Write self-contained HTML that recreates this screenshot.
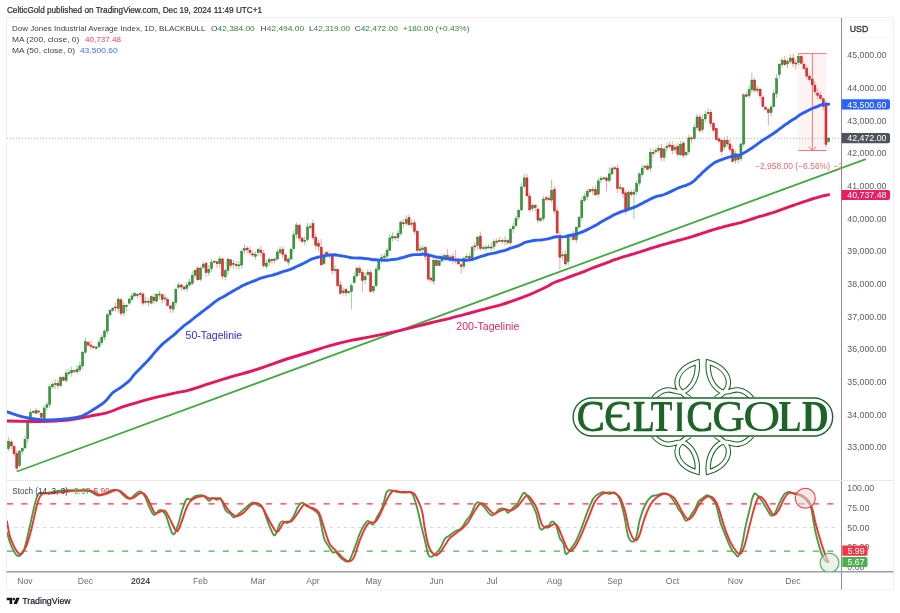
<!DOCTYPE html>
<html><head><meta charset="utf-8"><style>
html,body{margin:0;padding:0;background:#fff;width:900px;height:613px;overflow:hidden}
svg{display:block;will-change:transform}
</style></head><body>
<svg width="900" height="613" viewBox="0 0 900 613" style="font-family:'Liberation Sans',sans-serif">
<defs><clipPath id="cm"><rect x="7" y="18" width="834.5" height="462"/></clipPath><clipPath id="cmw"><rect x="7" y="18" width="886" height="462"/></clipPath><clipPath id="cs"><rect x="7" y="481" width="834.5" height="90.5"/></clipPath></defs>
<rect x="6.5" y="17.5" width="887" height="572.5" fill="none" stroke="#eef0f4" stroke-width="1"/>
<text x="6.9" y="13.0" font-size="8.2" fill="#2a2d36" stroke="#2a2d36" stroke-width="0.22" textLength="255.2" lengthAdjust="spacing">CelticGold published on TradingView.com, Dec 19, 2024 11:49 UTC+1</text>
<text x="12" y="30.8" font-size="8" fill="#3a3d47" textLength="193.5" lengthAdjust="spacingAndGlyphs">Dow Jones Industrial Average Index, 1D, BLACKBULL</text>
<text x="211.1" y="30.8" font-size="8" fill="#3a3d47" textLength="43.6" lengthAdjust="spacingAndGlyphs">O<tspan fill="#377f37">42,384.00</tspan></text>
<text x="260.6" y="30.8" font-size="8" fill="#3a3d47" textLength="43.6" lengthAdjust="spacingAndGlyphs">H<tspan fill="#377f37">42,494.00</tspan></text>
<text x="309.0" y="30.8" font-size="8" fill="#3a3d47" textLength="41.1" lengthAdjust="spacingAndGlyphs">L<tspan fill="#377f37">42,319.00</tspan></text>
<text x="354.7" y="30.8" font-size="8" fill="#3a3d47" textLength="43.1" lengthAdjust="spacingAndGlyphs">C<tspan fill="#377f37">42,472.00</tspan></text>
<text x="402.8" y="30.8" font-size="8" fill="#377f37" textLength="66.6" lengthAdjust="spacingAndGlyphs">+180.00 (+0.43%)</text>
<text x="12" y="41.7" font-size="8" fill="#3a3d47" textLength="67.2" lengthAdjust="spacingAndGlyphs">MA (200, close, 0)</text>
<text x="84.9" y="41.7" font-size="8" fill="#f23a6a" textLength="36.1" lengthAdjust="spacingAndGlyphs">40,737.48</text>
<text x="12" y="52.5" font-size="8" fill="#3a3d47" textLength="63.1" lengthAdjust="spacingAndGlyphs">MA (50, close, 0)</text>
<text x="79.9" y="52.5" font-size="8" fill="#3f6ef5" textLength="37.8" lengthAdjust="spacingAndGlyphs">43,500.60</text>
<line x1="841.5" y1="18" x2="841.5" y2="589.5" stroke="#8a8d97" stroke-width="1"/>
<rect x="843.8" y="20.4" width="47" height="17.2" rx="3" fill="#fff" stroke="#f0f2f6" stroke-width="0.8"/>
<text x="849.8" y="31.7" font-size="8.7" fill="#2a2e39" stroke="#2a2e39" stroke-width="0.3" textLength="18.4" lengthAdjust="spacingAndGlyphs">USD</text>
<text x="847.3" y="450.4" font-size="8.8" fill="#5d606b">33,000.00</text>
<text x="847.3" y="417.8" font-size="8.8" fill="#5d606b">34,000.00</text>
<text x="847.3" y="385.1" font-size="8.8" fill="#5d606b">35,000.00</text>
<text x="847.3" y="352.4" font-size="8.8" fill="#5d606b">36,000.00</text>
<text x="847.3" y="319.8" font-size="8.8" fill="#5d606b">37,000.00</text>
<text x="847.3" y="287.1" font-size="8.8" fill="#5d606b">38,000.00</text>
<text x="847.3" y="254.4" font-size="8.8" fill="#5d606b">39,000.00</text>
<text x="847.3" y="221.8" font-size="8.8" fill="#5d606b">40,000.00</text>
<text x="847.3" y="189.1" font-size="8.8" fill="#5d606b">41,000.00</text>
<text x="847.3" y="156.4" font-size="8.8" fill="#5d606b">42,000.00</text>
<text x="847.3" y="123.7" font-size="8.8" fill="#5d606b">43,000.00</text>
<text x="847.3" y="91.1" font-size="8.8" fill="#5d606b">44,000.00</text>
<text x="847.3" y="58.4" font-size="8.8" fill="#5d606b">45,000.00</text>
<text x="847.3" y="491.1" font-size="8.8" fill="#5d606b">100.00</text>
<text x="847.3" y="510.8" font-size="8.8" fill="#5d606b">75.00</text>
<text x="847.3" y="530.5" font-size="8.8" fill="#5d606b">50.00</text>
<text x="847.3" y="550.2" font-size="8.8" fill="#5d606b">25.00</text>
<text x="847.3" y="569.9" font-size="8.8" fill="#5d606b">0.00</text>
<line x1="6.5" y1="480.5" x2="893" y2="480.5" stroke="#e6e8ee" stroke-width="1"/>
<line x1="6.5" y1="571.8" x2="893.5" y2="571.8" stroke="#9a9da6" stroke-width="1.4"/>
<text x="25" y="583.7" font-size="8.6" fill="#6a6d78" text-anchor="middle">Nov</text>
<text x="85.5" y="583.7" font-size="8.6" fill="#6a6d78" text-anchor="middle">Dec</text>
<text x="140.5" y="583.7" font-size="8.6" font-weight="bold" fill="#4a4d57" text-anchor="middle">2024</text>
<text x="200.5" y="583.7" font-size="8.6" fill="#6a6d78" text-anchor="middle">Feb</text>
<text x="258" y="583.7" font-size="8.6" fill="#6a6d78" text-anchor="middle">Mar</text>
<text x="313" y="583.7" font-size="8.6" fill="#6a6d78" text-anchor="middle">Apr</text>
<text x="373.5" y="583.7" font-size="8.6" fill="#6a6d78" text-anchor="middle">May</text>
<text x="436.5" y="583.7" font-size="8.6" fill="#6a6d78" text-anchor="middle">Jun</text>
<text x="492" y="583.7" font-size="8.6" fill="#6a6d78" text-anchor="middle">Jul</text>
<text x="554.5" y="583.7" font-size="8.6" fill="#6a6d78" text-anchor="middle">Aug</text>
<text x="615" y="583.7" font-size="8.6" fill="#6a6d78" text-anchor="middle">Sep</text>
<text x="672.5" y="583.7" font-size="8.6" fill="#6a6d78" text-anchor="middle">Oct</text>
<text x="735.5" y="583.7" font-size="8.6" fill="#6a6d78" text-anchor="middle">Nov</text>
<text x="793" y="583.7" font-size="8.6" fill="#6a6d78" text-anchor="middle">Dec</text>
<rect x="798.3" y="53.6" width="28.2" height="96.9" fill="#fef3f3"/>
<line x1="7" y1="138.3" x2="841" y2="138.3" stroke="#a3a6ae" stroke-width="0.8" stroke-dasharray="1.2 1.8"/>
<g stroke="#f36b6e" stroke-width="0.9" fill="none"><line x1="798.3" y1="53.6" x2="826.5" y2="53.6"/><line x1="798.3" y1="150.5" x2="826.5" y2="150.5"/><line x1="812.4" y1="53.6" x2="812.4" y2="150.3"/><polyline points="808.7,146.8 812.4,150.4 816.1,146.8"/></g>
<g clip-path="url(#cm)">
<line x1="5.80" y1="440.4" x2="5.80" y2="452.4" stroke="#7cc47f" stroke-width="0.8"/>
<rect x="4.80" y="442.8" width="2.0" height="6.7" fill="#3a9a3e" stroke="#26752a" stroke-width="0.5"/>
<line x1="8.54" y1="437.1" x2="8.54" y2="451.0" stroke="#7cc47f" stroke-width="0.8"/>
<rect x="7.54" y="441.3" width="2.0" height="7.2" fill="#3a9a3e" stroke="#26752a" stroke-width="0.5"/>
<line x1="11.29" y1="439.3" x2="11.29" y2="448.9" stroke="#f28b8b" stroke-width="0.8"/>
<rect x="10.29" y="442.0" width="2.0" height="3.9" fill="#e3312f" stroke="#c0201f" stroke-width="0.5"/>
<line x1="14.03" y1="445.1" x2="14.03" y2="456.4" stroke="#f28b8b" stroke-width="0.8"/>
<rect x="13.03" y="446.6" width="2.0" height="7.1" fill="#e3312f" stroke="#c0201f" stroke-width="0.5"/>
<line x1="16.77" y1="450.6" x2="16.77" y2="471.8" stroke="#f28b8b" stroke-width="0.8"/>
<rect x="15.77" y="453.7" width="2.0" height="14.4" fill="#e3312f" stroke="#c0201f" stroke-width="0.5"/>
<line x1="19.51" y1="450.0" x2="19.51" y2="467.4" stroke="#7cc47f" stroke-width="0.8"/>
<rect x="18.51" y="451.1" width="2.0" height="14.4" fill="#3a9a3e" stroke="#26752a" stroke-width="0.5"/>
<line x1="22.26" y1="447.4" x2="22.26" y2="454.9" stroke="#7cc47f" stroke-width="0.8"/>
<rect x="21.26" y="448.5" width="2.0" height="2.6" fill="#3a9a3e" stroke="#26752a" stroke-width="0.5"/>
<line x1="25.00" y1="436.0" x2="25.00" y2="448.9" stroke="#7cc47f" stroke-width="0.8"/>
<rect x="24.00" y="439.4" width="2.0" height="8.5" fill="#3a9a3e" stroke="#26752a" stroke-width="0.5"/>
<line x1="27.74" y1="416.7" x2="27.74" y2="443.1" stroke="#7cc47f" stroke-width="0.8"/>
<rect x="26.74" y="421.1" width="2.0" height="17.6" fill="#3a9a3e" stroke="#26752a" stroke-width="0.5"/>
<line x1="30.49" y1="409.4" x2="30.49" y2="424.2" stroke="#7cc47f" stroke-width="0.8"/>
<rect x="29.49" y="412.6" width="2.0" height="8.5" fill="#3a9a3e" stroke="#26752a" stroke-width="0.5"/>
<line x1="33.23" y1="410.1" x2="33.23" y2="413.4" stroke="#f28b8b" stroke-width="0.8"/>
<rect x="32.23" y="411.5" width="2.0" height="1.0" fill="#e3312f" stroke="#c0201f" stroke-width="0.5"/>
<line x1="35.97" y1="407.9" x2="35.97" y2="414.3" stroke="#7cc47f" stroke-width="0.8"/>
<rect x="34.97" y="410.7" width="2.0" height="2.6" fill="#3a9a3e" stroke="#26752a" stroke-width="0.5"/>
<line x1="38.72" y1="409.5" x2="38.72" y2="413.7" stroke="#f28b8b" stroke-width="0.8"/>
<rect x="37.72" y="411.0" width="2.0" height="1.0" fill="#e3312f" stroke="#c0201f" stroke-width="0.5"/>
<line x1="41.46" y1="412.4" x2="41.46" y2="419.7" stroke="#f28b8b" stroke-width="0.8"/>
<rect x="40.46" y="413.3" width="2.0" height="3.9" fill="#e3312f" stroke="#c0201f" stroke-width="0.5"/>
<line x1="44.20" y1="405.6" x2="44.20" y2="422.4" stroke="#7cc47f" stroke-width="0.8"/>
<rect x="43.20" y="408.0" width="2.0" height="10.5" fill="#3a9a3e" stroke="#26752a" stroke-width="0.5"/>
<line x1="46.94" y1="402.1" x2="46.94" y2="410.6" stroke="#7cc47f" stroke-width="0.8"/>
<rect x="45.94" y="404.8" width="2.0" height="2.6" fill="#3a9a3e" stroke="#26752a" stroke-width="0.5"/>
<line x1="49.69" y1="384.2" x2="49.69" y2="407.7" stroke="#7cc47f" stroke-width="0.8"/>
<rect x="48.69" y="386.8" width="2.0" height="17.6" fill="#3a9a3e" stroke="#26752a" stroke-width="0.5"/>
<line x1="52.43" y1="381.7" x2="52.43" y2="388.6" stroke="#7cc47f" stroke-width="0.8"/>
<rect x="51.43" y="384.2" width="2.0" height="2.6" fill="#3a9a3e" stroke="#26752a" stroke-width="0.5"/>
<line x1="55.17" y1="379.0" x2="55.17" y2="389.1" stroke="#7cc47f" stroke-width="0.8"/>
<rect x="54.17" y="383.5" width="2.0" height="1.1" fill="#3a9a3e" stroke="#26752a" stroke-width="0.5"/>
<line x1="57.92" y1="379.6" x2="57.92" y2="388.9" stroke="#f28b8b" stroke-width="0.8"/>
<rect x="56.92" y="383.5" width="2.0" height="2.0" fill="#e3312f" stroke="#c0201f" stroke-width="0.5"/>
<line x1="60.66" y1="375.6" x2="60.66" y2="387.1" stroke="#7cc47f" stroke-width="0.8"/>
<rect x="59.66" y="377.6" width="2.0" height="7.9" fill="#3a9a3e" stroke="#26752a" stroke-width="0.5"/>
<line x1="63.40" y1="375.7" x2="63.40" y2="381.4" stroke="#f28b8b" stroke-width="0.8"/>
<rect x="62.40" y="377.6" width="2.0" height="2.7" fill="#e3312f" stroke="#c0201f" stroke-width="0.5"/>
<line x1="66.14" y1="369.5" x2="66.14" y2="382.6" stroke="#7cc47f" stroke-width="0.8"/>
<rect x="65.14" y="373.1" width="2.0" height="7.2" fill="#3a9a3e" stroke="#26752a" stroke-width="0.5"/>
<line x1="68.89" y1="368.6" x2="68.89" y2="375.8" stroke="#7cc47f" stroke-width="0.8"/>
<rect x="67.89" y="372.6" width="2.0" height="1.0" fill="#3a9a3e" stroke="#26752a" stroke-width="0.5"/>
<line x1="71.63" y1="366.4" x2="71.63" y2="376.7" stroke="#7cc47f" stroke-width="0.8"/>
<rect x="70.63" y="370.7" width="2.0" height="2.1" fill="#3a9a3e" stroke="#26752a" stroke-width="0.5"/>
<line x1="74.37" y1="369.7" x2="74.37" y2="373.1" stroke="#f28b8b" stroke-width="0.8"/>
<rect x="73.37" y="370.5" width="2.0" height="1.0" fill="#e3312f" stroke="#c0201f" stroke-width="0.5"/>
<line x1="77.12" y1="365.0" x2="77.12" y2="374.3" stroke="#7cc47f" stroke-width="0.8"/>
<rect x="76.12" y="369.2" width="2.0" height="2.6" fill="#3a9a3e" stroke="#26752a" stroke-width="0.5"/>
<line x1="79.86" y1="361.5" x2="79.86" y2="372.1" stroke="#7cc47f" stroke-width="0.8"/>
<rect x="78.86" y="365.9" width="2.0" height="3.9" fill="#3a9a3e" stroke="#26752a" stroke-width="0.5"/>
<line x1="82.60" y1="351.1" x2="82.60" y2="369.0" stroke="#7cc47f" stroke-width="0.8"/>
<rect x="81.60" y="352.2" width="2.0" height="13.7" fill="#3a9a3e" stroke="#26752a" stroke-width="0.5"/>
<line x1="85.35" y1="338.0" x2="85.35" y2="354.0" stroke="#7cc47f" stroke-width="0.8"/>
<rect x="84.35" y="341.7" width="2.0" height="10.5" fill="#3a9a3e" stroke="#26752a" stroke-width="0.5"/>
<line x1="88.09" y1="341.3" x2="88.09" y2="347.0" stroke="#f28b8b" stroke-width="0.8"/>
<rect x="87.09" y="342.4" width="2.0" height="2.6" fill="#e3312f" stroke="#c0201f" stroke-width="0.5"/>
<line x1="90.83" y1="340.6" x2="90.83" y2="349.9" stroke="#f28b8b" stroke-width="0.8"/>
<rect x="89.83" y="345.0" width="2.0" height="1.3" fill="#e3312f" stroke="#c0201f" stroke-width="0.5"/>
<line x1="93.58" y1="345.4" x2="93.58" y2="349.4" stroke="#f28b8b" stroke-width="0.8"/>
<rect x="92.58" y="346.6" width="2.0" height="1.0" fill="#e3312f" stroke="#c0201f" stroke-width="0.5"/>
<line x1="96.32" y1="345.8" x2="96.32" y2="349.3" stroke="#7cc47f" stroke-width="0.8"/>
<rect x="95.32" y="347.0" width="2.0" height="1.3" fill="#3a9a3e" stroke="#26752a" stroke-width="0.5"/>
<line x1="99.06" y1="338.7" x2="99.06" y2="348.2" stroke="#7cc47f" stroke-width="0.8"/>
<rect x="98.06" y="342.4" width="2.0" height="4.3" fill="#3a9a3e" stroke="#26752a" stroke-width="0.5"/>
<line x1="101.80" y1="334.3" x2="101.80" y2="344.9" stroke="#7cc47f" stroke-width="0.8"/>
<rect x="100.80" y="337.2" width="2.0" height="5.2" fill="#3a9a3e" stroke="#26752a" stroke-width="0.5"/>
<line x1="104.55" y1="329.6" x2="104.55" y2="340.5" stroke="#7cc47f" stroke-width="0.8"/>
<rect x="103.55" y="331.1" width="2.0" height="5.9" fill="#3a9a3e" stroke="#26752a" stroke-width="0.5"/>
<line x1="107.29" y1="313.5" x2="107.29" y2="334.3" stroke="#7cc47f" stroke-width="0.8"/>
<rect x="106.29" y="314.8" width="2.0" height="16.3" fill="#3a9a3e" stroke="#26752a" stroke-width="0.5"/>
<line x1="110.03" y1="309.1" x2="110.03" y2="317.2" stroke="#7cc47f" stroke-width="0.8"/>
<rect x="109.03" y="310.3" width="2.0" height="4.5" fill="#3a9a3e" stroke="#26752a" stroke-width="0.5"/>
<line x1="112.78" y1="306.7" x2="112.78" y2="312.1" stroke="#7cc47f" stroke-width="0.8"/>
<rect x="111.78" y="308.3" width="2.0" height="2.0" fill="#3a9a3e" stroke="#26752a" stroke-width="0.5"/>
<line x1="115.52" y1="302.6" x2="115.52" y2="311.8" stroke="#f28b8b" stroke-width="0.8"/>
<rect x="114.52" y="307.0" width="2.0" height="1.0" fill="#e3312f" stroke="#c0201f" stroke-width="0.5"/>
<line x1="118.26" y1="297.3" x2="118.26" y2="312.4" stroke="#7cc47f" stroke-width="0.8"/>
<rect x="117.26" y="299.2" width="2.0" height="9.1" fill="#3a9a3e" stroke="#26752a" stroke-width="0.5"/>
<line x1="121.00" y1="298.2" x2="121.00" y2="315.8" stroke="#f28b8b" stroke-width="0.8"/>
<rect x="120.00" y="299.8" width="2.0" height="13.7" fill="#e3312f" stroke="#c0201f" stroke-width="0.5"/>
<line x1="123.75" y1="301.7" x2="123.75" y2="316.1" stroke="#7cc47f" stroke-width="0.8"/>
<rect x="122.75" y="305.7" width="2.0" height="7.2" fill="#3a9a3e" stroke="#26752a" stroke-width="0.5"/>
<line x1="126.49" y1="304.2" x2="126.49" y2="311.2" stroke="#7cc47f" stroke-width="0.8"/>
<rect x="125.49" y="305.4" width="2.0" height="1.3" fill="#3a9a3e" stroke="#26752a" stroke-width="0.5"/>
<line x1="129.23" y1="297.6" x2="129.23" y2="304.9" stroke="#7cc47f" stroke-width="0.8"/>
<rect x="128.23" y="299.2" width="2.0" height="3.9" fill="#3a9a3e" stroke="#26752a" stroke-width="0.5"/>
<line x1="131.98" y1="292.2" x2="131.98" y2="301.2" stroke="#7cc47f" stroke-width="0.8"/>
<rect x="130.98" y="295.9" width="2.0" height="3.3" fill="#3a9a3e" stroke="#26752a" stroke-width="0.5"/>
<line x1="134.72" y1="291.8" x2="134.72" y2="297.0" stroke="#7cc47f" stroke-width="0.8"/>
<rect x="133.72" y="293.7" width="2.0" height="2.2" fill="#3a9a3e" stroke="#26752a" stroke-width="0.5"/>
<line x1="137.46" y1="293.1" x2="137.46" y2="298.5" stroke="#f28b8b" stroke-width="0.8"/>
<rect x="136.46" y="294.2" width="2.0" height="1.3" fill="#e3312f" stroke="#c0201f" stroke-width="0.5"/>
<line x1="140.21" y1="292.0" x2="140.21" y2="297.7" stroke="#7cc47f" stroke-width="0.8"/>
<rect x="139.21" y="293.6" width="2.0" height="1.0" fill="#3a9a3e" stroke="#26752a" stroke-width="0.5"/>
<line x1="142.95" y1="291.8" x2="142.95" y2="305.6" stroke="#f28b8b" stroke-width="0.8"/>
<rect x="141.95" y="294.0" width="2.0" height="9.1" fill="#e3312f" stroke="#c0201f" stroke-width="0.5"/>
<line x1="145.69" y1="296.9" x2="145.69" y2="304.8" stroke="#7cc47f" stroke-width="0.8"/>
<rect x="144.69" y="301.2" width="2.0" height="1.0" fill="#3a9a3e" stroke="#26752a" stroke-width="0.5"/>
<line x1="148.44" y1="298.5" x2="148.44" y2="306.5" stroke="#f28b8b" stroke-width="0.8"/>
<rect x="147.44" y="301.4" width="2.0" height="1.0" fill="#e3312f" stroke="#c0201f" stroke-width="0.5"/>
<line x1="151.18" y1="295.1" x2="151.18" y2="304.5" stroke="#7cc47f" stroke-width="0.8"/>
<rect x="150.18" y="296.6" width="2.0" height="6.5" fill="#3a9a3e" stroke="#26752a" stroke-width="0.5"/>
<line x1="153.92" y1="293.0" x2="153.92" y2="304.3" stroke="#f28b8b" stroke-width="0.8"/>
<rect x="152.92" y="297.2" width="2.0" height="3.3" fill="#e3312f" stroke="#c0201f" stroke-width="0.5"/>
<line x1="156.66" y1="292.9" x2="156.66" y2="302.6" stroke="#7cc47f" stroke-width="0.8"/>
<rect x="155.66" y="294.6" width="2.0" height="6.5" fill="#3a9a3e" stroke="#26752a" stroke-width="0.5"/>
<line x1="159.41" y1="290.5" x2="159.41" y2="299.3" stroke="#7cc47f" stroke-width="0.8"/>
<rect x="158.41" y="294.0" width="2.0" height="1.0" fill="#3a9a3e" stroke="#26752a" stroke-width="0.5"/>
<line x1="162.15" y1="293.3" x2="162.15" y2="303.7" stroke="#f28b8b" stroke-width="0.8"/>
<rect x="161.15" y="294.8" width="2.0" height="4.6" fill="#e3312f" stroke="#c0201f" stroke-width="0.5"/>
<line x1="164.89" y1="293.8" x2="164.89" y2="301.9" stroke="#7cc47f" stroke-width="0.8"/>
<rect x="163.89" y="297.9" width="2.0" height="1.0" fill="#3a9a3e" stroke="#26752a" stroke-width="0.5"/>
<line x1="167.64" y1="297.0" x2="167.64" y2="306.5" stroke="#f28b8b" stroke-width="0.8"/>
<rect x="166.64" y="299.4" width="2.0" height="5.9" fill="#e3312f" stroke="#c0201f" stroke-width="0.5"/>
<line x1="170.38" y1="305.0" x2="170.38" y2="312.9" stroke="#f28b8b" stroke-width="0.8"/>
<rect x="169.38" y="305.9" width="2.0" height="2.6" fill="#e3312f" stroke="#c0201f" stroke-width="0.5"/>
<line x1="173.12" y1="300.7" x2="173.12" y2="312.6" stroke="#7cc47f" stroke-width="0.8"/>
<rect x="172.12" y="302.4" width="2.0" height="6.8" fill="#3a9a3e" stroke="#26752a" stroke-width="0.5"/>
<line x1="175.86" y1="287.5" x2="175.86" y2="306.2" stroke="#7cc47f" stroke-width="0.8"/>
<rect x="174.86" y="289.3" width="2.0" height="13.1" fill="#3a9a3e" stroke="#26752a" stroke-width="0.5"/>
<line x1="178.61" y1="282.0" x2="178.61" y2="289.2" stroke="#7cc47f" stroke-width="0.8"/>
<rect x="177.61" y="285.0" width="2.0" height="2.3" fill="#3a9a3e" stroke="#26752a" stroke-width="0.5"/>
<line x1="181.35" y1="283.6" x2="181.35" y2="290.5" stroke="#f28b8b" stroke-width="0.8"/>
<rect x="180.35" y="285.0" width="2.0" height="2.0" fill="#e3312f" stroke="#c0201f" stroke-width="0.5"/>
<line x1="184.09" y1="285.9" x2="184.09" y2="290.6" stroke="#f28b8b" stroke-width="0.8"/>
<rect x="183.09" y="287.0" width="2.0" height="2.0" fill="#e3312f" stroke="#c0201f" stroke-width="0.5"/>
<line x1="186.84" y1="282.1" x2="186.84" y2="292.3" stroke="#7cc47f" stroke-width="0.8"/>
<rect x="185.84" y="285.0" width="2.0" height="3.3" fill="#3a9a3e" stroke="#26752a" stroke-width="0.5"/>
<line x1="189.58" y1="278.9" x2="189.58" y2="286.8" stroke="#7cc47f" stroke-width="0.8"/>
<rect x="188.58" y="282.0" width="2.0" height="3.0" fill="#3a9a3e" stroke="#26752a" stroke-width="0.5"/>
<line x1="192.32" y1="271.3" x2="192.32" y2="284.9" stroke="#7cc47f" stroke-width="0.8"/>
<rect x="191.32" y="275.5" width="2.0" height="7.8" fill="#3a9a3e" stroke="#26752a" stroke-width="0.5"/>
<line x1="195.07" y1="269.4" x2="195.07" y2="277.0" stroke="#7cc47f" stroke-width="0.8"/>
<rect x="194.07" y="270.3" width="2.0" height="4.9" fill="#3a9a3e" stroke="#26752a" stroke-width="0.5"/>
<line x1="197.81" y1="265.7" x2="197.81" y2="280.8" stroke="#f28b8b" stroke-width="0.8"/>
<rect x="196.81" y="268.1" width="2.0" height="11.7" fill="#e3312f" stroke="#c0201f" stroke-width="0.5"/>
<line x1="200.55" y1="266.6" x2="200.55" y2="281.4" stroke="#7cc47f" stroke-width="0.8"/>
<rect x="199.55" y="268.1" width="2.0" height="11.1" fill="#3a9a3e" stroke="#26752a" stroke-width="0.5"/>
<line x1="203.29" y1="261.3" x2="203.29" y2="268.7" stroke="#7cc47f" stroke-width="0.8"/>
<rect x="202.29" y="264.2" width="2.0" height="3.2" fill="#3a9a3e" stroke="#26752a" stroke-width="0.5"/>
<line x1="206.04" y1="261.1" x2="206.04" y2="276.7" stroke="#f28b8b" stroke-width="0.8"/>
<rect x="205.04" y="263.2" width="2.0" height="9.4" fill="#e3312f" stroke="#c0201f" stroke-width="0.5"/>
<line x1="208.78" y1="265.0" x2="208.78" y2="275.8" stroke="#7cc47f" stroke-width="0.8"/>
<rect x="207.78" y="269.4" width="2.0" height="3.2" fill="#3a9a3e" stroke="#26752a" stroke-width="0.5"/>
<line x1="211.52" y1="259.1" x2="211.52" y2="271.7" stroke="#7cc47f" stroke-width="0.8"/>
<rect x="210.52" y="262.5" width="2.0" height="6.2" fill="#3a9a3e" stroke="#26752a" stroke-width="0.5"/>
<line x1="214.27" y1="259.9" x2="214.27" y2="263.2" stroke="#7cc47f" stroke-width="0.8"/>
<rect x="213.27" y="261.2" width="2.0" height="1.0" fill="#3a9a3e" stroke="#26752a" stroke-width="0.5"/>
<line x1="217.01" y1="260.9" x2="217.01" y2="267.9" stroke="#f28b8b" stroke-width="0.8"/>
<rect x="216.01" y="261.8" width="2.0" height="1.9" fill="#e3312f" stroke="#c0201f" stroke-width="0.5"/>
<line x1="219.75" y1="255.5" x2="219.75" y2="268.1" stroke="#7cc47f" stroke-width="0.8"/>
<rect x="218.75" y="258.9" width="2.0" height="4.8" fill="#3a9a3e" stroke="#26752a" stroke-width="0.5"/>
<line x1="222.50" y1="258.0" x2="222.50" y2="279.3" stroke="#f28b8b" stroke-width="0.8"/>
<rect x="221.50" y="258.9" width="2.0" height="17.2" fill="#e3312f" stroke="#c0201f" stroke-width="0.5"/>
<line x1="225.24" y1="268.1" x2="225.24" y2="280.3" stroke="#7cc47f" stroke-width="0.8"/>
<rect x="224.24" y="270.7" width="2.0" height="6.1" fill="#3a9a3e" stroke="#26752a" stroke-width="0.5"/>
<line x1="227.98" y1="257.2" x2="227.98" y2="274.8" stroke="#7cc47f" stroke-width="0.8"/>
<rect x="226.98" y="259.2" width="2.0" height="11.1" fill="#3a9a3e" stroke="#26752a" stroke-width="0.5"/>
<line x1="230.72" y1="258.7" x2="230.72" y2="268.2" stroke="#f28b8b" stroke-width="0.8"/>
<rect x="229.72" y="259.8" width="2.0" height="5.6" fill="#e3312f" stroke="#c0201f" stroke-width="0.5"/>
<line x1="233.47" y1="260.0" x2="233.47" y2="268.7" stroke="#7cc47f" stroke-width="0.8"/>
<rect x="232.47" y="263.5" width="2.0" height="1.0" fill="#3a9a3e" stroke="#26752a" stroke-width="0.5"/>
<line x1="236.21" y1="260.9" x2="236.21" y2="269.1" stroke="#f28b8b" stroke-width="0.8"/>
<rect x="235.21" y="264.4" width="2.0" height="1.3" fill="#e3312f" stroke="#c0201f" stroke-width="0.5"/>
<line x1="238.95" y1="261.1" x2="238.95" y2="270.0" stroke="#7cc47f" stroke-width="0.8"/>
<rect x="237.95" y="264.9" width="2.0" height="1.0" fill="#3a9a3e" stroke="#26752a" stroke-width="0.5"/>
<line x1="241.70" y1="249.2" x2="241.70" y2="268.3" stroke="#7cc47f" stroke-width="0.8"/>
<rect x="240.70" y="251.3" width="2.0" height="13.7" fill="#3a9a3e" stroke="#26752a" stroke-width="0.5"/>
<line x1="244.44" y1="244.6" x2="244.44" y2="254.3" stroke="#7cc47f" stroke-width="0.8"/>
<rect x="243.44" y="248.7" width="2.0" height="1.6" fill="#3a9a3e" stroke="#26752a" stroke-width="0.5"/>
<line x1="247.18" y1="245.8" x2="247.18" y2="253.5" stroke="#f28b8b" stroke-width="0.8"/>
<rect x="246.18" y="248.1" width="2.0" height="1.7" fill="#e3312f" stroke="#c0201f" stroke-width="0.5"/>
<line x1="249.93" y1="246.3" x2="249.93" y2="255.5" stroke="#f28b8b" stroke-width="0.8"/>
<rect x="248.93" y="250.3" width="2.0" height="2.3" fill="#e3312f" stroke="#c0201f" stroke-width="0.5"/>
<line x1="252.67" y1="250.8" x2="252.67" y2="257.2" stroke="#f28b8b" stroke-width="0.8"/>
<rect x="251.67" y="253.9" width="2.0" height="1.1" fill="#e3312f" stroke="#c0201f" stroke-width="0.5"/>
<line x1="255.41" y1="251.2" x2="255.41" y2="259.4" stroke="#7cc47f" stroke-width="0.8"/>
<rect x="254.41" y="254.2" width="2.0" height="2.1" fill="#3a9a3e" stroke="#26752a" stroke-width="0.5"/>
<line x1="258.15" y1="248.3" x2="258.15" y2="255.8" stroke="#7cc47f" stroke-width="0.8"/>
<rect x="257.15" y="249.4" width="2.0" height="3.2" fill="#3a9a3e" stroke="#26752a" stroke-width="0.5"/>
<line x1="260.90" y1="245.8" x2="260.90" y2="256.7" stroke="#f28b8b" stroke-width="0.8"/>
<rect x="259.90" y="250.3" width="2.0" height="2.3" fill="#e3312f" stroke="#c0201f" stroke-width="0.5"/>
<line x1="263.64" y1="250.2" x2="263.64" y2="267.9" stroke="#f28b8b" stroke-width="0.8"/>
<rect x="262.64" y="253.7" width="2.0" height="12.0" fill="#e3312f" stroke="#c0201f" stroke-width="0.5"/>
<line x1="266.38" y1="259.6" x2="266.38" y2="269.2" stroke="#7cc47f" stroke-width="0.8"/>
<rect x="265.38" y="263.1" width="2.0" height="3.2" fill="#3a9a3e" stroke="#26752a" stroke-width="0.5"/>
<line x1="269.13" y1="256.9" x2="269.13" y2="266.1" stroke="#7cc47f" stroke-width="0.8"/>
<rect x="268.13" y="259.3" width="2.0" height="2.9" fill="#3a9a3e" stroke="#26752a" stroke-width="0.5"/>
<line x1="271.87" y1="258.5" x2="271.87" y2="264.3" stroke="#f28b8b" stroke-width="0.8"/>
<rect x="270.87" y="259.6" width="2.0" height="1.1" fill="#e3312f" stroke="#c0201f" stroke-width="0.5"/>
<line x1="274.61" y1="258.1" x2="274.61" y2="263.3" stroke="#7cc47f" stroke-width="0.8"/>
<rect x="273.61" y="259.0" width="2.0" height="1.3" fill="#3a9a3e" stroke="#26752a" stroke-width="0.5"/>
<line x1="277.36" y1="249.4" x2="277.36" y2="260.7" stroke="#7cc47f" stroke-width="0.8"/>
<rect x="276.36" y="252.0" width="2.0" height="7.0" fill="#3a9a3e" stroke="#26752a" stroke-width="0.5"/>
<line x1="280.10" y1="246.4" x2="280.10" y2="255.0" stroke="#7cc47f" stroke-width="0.8"/>
<rect x="279.10" y="249.8" width="2.0" height="2.6" fill="#3a9a3e" stroke="#26752a" stroke-width="0.5"/>
<line x1="282.84" y1="246.1" x2="282.84" y2="258.6" stroke="#f28b8b" stroke-width="0.8"/>
<rect x="281.84" y="249.2" width="2.0" height="5.2" fill="#e3312f" stroke="#c0201f" stroke-width="0.5"/>
<line x1="285.58" y1="253.3" x2="285.58" y2="261.7" stroke="#f28b8b" stroke-width="0.8"/>
<rect x="284.58" y="255.0" width="2.0" height="5.9" fill="#e3312f" stroke="#c0201f" stroke-width="0.5"/>
<line x1="288.33" y1="257.1" x2="288.33" y2="265.5" stroke="#7cc47f" stroke-width="0.8"/>
<rect x="287.33" y="259.0" width="2.0" height="3.2" fill="#3a9a3e" stroke="#26752a" stroke-width="0.5"/>
<line x1="291.07" y1="247.7" x2="291.07" y2="260.4" stroke="#7cc47f" stroke-width="0.8"/>
<rect x="290.07" y="249.2" width="2.0" height="9.8" fill="#3a9a3e" stroke="#26752a" stroke-width="0.5"/>
<line x1="293.81" y1="230.6" x2="293.81" y2="251.7" stroke="#7cc47f" stroke-width="0.8"/>
<rect x="292.81" y="234.8" width="2.0" height="13.7" fill="#3a9a3e" stroke="#26752a" stroke-width="0.5"/>
<line x1="296.56" y1="222.6" x2="296.56" y2="238.3" stroke="#7cc47f" stroke-width="0.8"/>
<rect x="295.56" y="225.0" width="2.0" height="9.2" fill="#3a9a3e" stroke="#26752a" stroke-width="0.5"/>
<line x1="299.30" y1="223.7" x2="299.30" y2="241.4" stroke="#f28b8b" stroke-width="0.8"/>
<rect x="298.30" y="225.7" width="2.0" height="12.4" fill="#e3312f" stroke="#c0201f" stroke-width="0.5"/>
<line x1="302.04" y1="236.6" x2="302.04" y2="243.7" stroke="#f28b8b" stroke-width="0.8"/>
<rect x="301.04" y="238.1" width="2.0" height="3.2" fill="#e3312f" stroke="#c0201f" stroke-width="0.5"/>
<line x1="304.79" y1="236.5" x2="304.79" y2="245.5" stroke="#7cc47f" stroke-width="0.8"/>
<rect x="303.79" y="240.3" width="2.0" height="1.0" fill="#3a9a3e" stroke="#26752a" stroke-width="0.5"/>
<line x1="307.53" y1="222.9" x2="307.53" y2="241.6" stroke="#7cc47f" stroke-width="0.8"/>
<rect x="306.53" y="227.0" width="2.0" height="12.4" fill="#3a9a3e" stroke="#26752a" stroke-width="0.5"/>
<line x1="310.27" y1="223.3" x2="310.27" y2="229.6" stroke="#7cc47f" stroke-width="0.8"/>
<rect x="309.27" y="226.3" width="2.0" height="1.3" fill="#3a9a3e" stroke="#26752a" stroke-width="0.5"/>
<line x1="313.01" y1="219.5" x2="313.01" y2="240.0" stroke="#f28b8b" stroke-width="0.8"/>
<rect x="312.01" y="223.7" width="2.0" height="13.7" fill="#e3312f" stroke="#c0201f" stroke-width="0.5"/>
<line x1="315.76" y1="233.5" x2="315.76" y2="249.1" stroke="#f28b8b" stroke-width="0.8"/>
<rect x="314.76" y="237.4" width="2.0" height="7.8" fill="#e3312f" stroke="#c0201f" stroke-width="0.5"/>
<line x1="318.50" y1="239.9" x2="318.50" y2="250.9" stroke="#f28b8b" stroke-width="0.8"/>
<rect x="317.50" y="243.3" width="2.0" height="3.3" fill="#e3312f" stroke="#c0201f" stroke-width="0.5"/>
<line x1="321.24" y1="238.8" x2="321.24" y2="266.2" stroke="#f28b8b" stroke-width="0.8"/>
<rect x="320.24" y="247.2" width="2.0" height="17.6" fill="#e3312f" stroke="#c0201f" stroke-width="0.5"/>
<line x1="323.99" y1="252.5" x2="323.99" y2="265.3" stroke="#7cc47f" stroke-width="0.8"/>
<rect x="322.99" y="255.0" width="2.0" height="8.5" fill="#3a9a3e" stroke="#26752a" stroke-width="0.5"/>
<line x1="326.73" y1="250.8" x2="326.73" y2="257.1" stroke="#f28b8b" stroke-width="0.8"/>
<rect x="325.73" y="252.4" width="2.0" height="2.4" fill="#e3312f" stroke="#c0201f" stroke-width="0.5"/>
<line x1="329.47" y1="251.6" x2="329.47" y2="258.4" stroke="#f28b8b" stroke-width="0.8"/>
<rect x="328.47" y="254.8" width="2.0" height="1.0" fill="#e3312f" stroke="#c0201f" stroke-width="0.5"/>
<line x1="332.22" y1="253.0" x2="332.22" y2="274.6" stroke="#f28b8b" stroke-width="0.8"/>
<rect x="331.22" y="255.0" width="2.0" height="15.7" fill="#e3312f" stroke="#c0201f" stroke-width="0.5"/>
<line x1="334.96" y1="265.0" x2="334.96" y2="273.2" stroke="#7cc47f" stroke-width="0.8"/>
<rect x="333.96" y="269.4" width="2.0" height="1.3" fill="#3a9a3e" stroke="#26752a" stroke-width="0.5"/>
<line x1="337.70" y1="268.3" x2="337.70" y2="286.6" stroke="#f28b8b" stroke-width="0.8"/>
<rect x="336.70" y="269.4" width="2.0" height="16.3" fill="#e3312f" stroke="#c0201f" stroke-width="0.5"/>
<line x1="340.44" y1="281.0" x2="340.44" y2="294.5" stroke="#f28b8b" stroke-width="0.8"/>
<rect x="339.44" y="285.0" width="2.0" height="8.5" fill="#e3312f" stroke="#c0201f" stroke-width="0.5"/>
<line x1="343.19" y1="287.5" x2="343.19" y2="295.5" stroke="#7cc47f" stroke-width="0.8"/>
<rect x="342.19" y="290.9" width="2.0" height="1.7" fill="#3a9a3e" stroke="#26752a" stroke-width="0.5"/>
<line x1="345.93" y1="287.7" x2="345.93" y2="296.6" stroke="#f28b8b" stroke-width="0.8"/>
<rect x="344.93" y="289.6" width="2.0" height="3.3" fill="#e3312f" stroke="#c0201f" stroke-width="0.5"/>
<line x1="348.67" y1="290.8" x2="348.67" y2="294.0" stroke="#7cc47f" stroke-width="0.8"/>
<rect x="347.67" y="291.7" width="2.0" height="1.0" fill="#3a9a3e" stroke="#26752a" stroke-width="0.5"/>
<line x1="351.42" y1="283.2" x2="351.42" y2="309.5" stroke="#7cc47f" stroke-width="0.8"/>
<rect x="350.42" y="285.7" width="2.0" height="5.9" fill="#3a9a3e" stroke="#26752a" stroke-width="0.5"/>
<line x1="354.16" y1="272.7" x2="354.16" y2="284.1" stroke="#7cc47f" stroke-width="0.8"/>
<rect x="353.16" y="276.6" width="2.0" height="5.8" fill="#3a9a3e" stroke="#26752a" stroke-width="0.5"/>
<line x1="356.90" y1="266.8" x2="356.90" y2="276.9" stroke="#7cc47f" stroke-width="0.8"/>
<rect x="355.90" y="268.1" width="2.0" height="7.8" fill="#3a9a3e" stroke="#26752a" stroke-width="0.5"/>
<line x1="359.65" y1="265.6" x2="359.65" y2="275.1" stroke="#f28b8b" stroke-width="0.8"/>
<rect x="358.65" y="268.7" width="2.0" height="3.9" fill="#e3312f" stroke="#c0201f" stroke-width="0.5"/>
<line x1="362.39" y1="269.5" x2="362.39" y2="292.5" stroke="#f28b8b" stroke-width="0.8"/>
<rect x="361.39" y="272.6" width="2.0" height="7.9" fill="#e3312f" stroke="#c0201f" stroke-width="0.5"/>
<line x1="365.13" y1="272.8" x2="365.13" y2="284.1" stroke="#7cc47f" stroke-width="0.8"/>
<rect x="364.13" y="276.6" width="2.0" height="3.2" fill="#3a9a3e" stroke="#26752a" stroke-width="0.5"/>
<line x1="367.88" y1="269.3" x2="367.88" y2="276.1" stroke="#7cc47f" stroke-width="0.8"/>
<rect x="366.88" y="272.6" width="2.0" height="2.0" fill="#3a9a3e" stroke="#26752a" stroke-width="0.5"/>
<line x1="370.62" y1="270.0" x2="370.62" y2="293.1" stroke="#f28b8b" stroke-width="0.8"/>
<rect x="369.62" y="272.6" width="2.0" height="19.0" fill="#e3312f" stroke="#c0201f" stroke-width="0.5"/>
<line x1="373.36" y1="285.6" x2="373.36" y2="293.4" stroke="#7cc47f" stroke-width="0.8"/>
<rect x="372.36" y="286.4" width="2.0" height="4.5" fill="#3a9a3e" stroke="#26752a" stroke-width="0.5"/>
<line x1="376.10" y1="266.0" x2="376.10" y2="287.2" stroke="#7cc47f" stroke-width="0.8"/>
<rect x="375.10" y="269.4" width="2.0" height="16.3" fill="#3a9a3e" stroke="#26752a" stroke-width="0.5"/>
<line x1="378.85" y1="258.9" x2="378.85" y2="271.3" stroke="#7cc47f" stroke-width="0.8"/>
<rect x="377.85" y="260.7" width="2.0" height="8.5" fill="#3a9a3e" stroke="#26752a" stroke-width="0.5"/>
<line x1="381.59" y1="254.0" x2="381.59" y2="263.0" stroke="#7cc47f" stroke-width="0.8"/>
<rect x="380.59" y="257.4" width="2.0" height="2.9" fill="#3a9a3e" stroke="#26752a" stroke-width="0.5"/>
<line x1="384.33" y1="253.0" x2="384.33" y2="261.0" stroke="#7cc47f" stroke-width="0.8"/>
<rect x="383.33" y="256.1" width="2.0" height="1.3" fill="#3a9a3e" stroke="#26752a" stroke-width="0.5"/>
<line x1="387.08" y1="248.0" x2="387.08" y2="259.8" stroke="#7cc47f" stroke-width="0.8"/>
<rect x="386.08" y="250.3" width="2.0" height="5.8" fill="#3a9a3e" stroke="#26752a" stroke-width="0.5"/>
<line x1="389.82" y1="233.7" x2="389.82" y2="251.4" stroke="#7cc47f" stroke-width="0.8"/>
<rect x="388.82" y="237.9" width="2.0" height="12.4" fill="#3a9a3e" stroke="#26752a" stroke-width="0.5"/>
<line x1="392.56" y1="232.3" x2="392.56" y2="241.6" stroke="#7cc47f" stroke-width="0.8"/>
<rect x="391.56" y="236.6" width="2.0" height="1.5" fill="#3a9a3e" stroke="#26752a" stroke-width="0.5"/>
<line x1="395.31" y1="235.5" x2="395.31" y2="240.4" stroke="#f28b8b" stroke-width="0.8"/>
<rect x="394.31" y="236.8" width="2.0" height="1.1" fill="#e3312f" stroke="#c0201f" stroke-width="0.5"/>
<line x1="398.05" y1="230.2" x2="398.05" y2="241.8" stroke="#7cc47f" stroke-width="0.8"/>
<rect x="397.05" y="233.3" width="2.0" height="4.3" fill="#3a9a3e" stroke="#26752a" stroke-width="0.5"/>
<line x1="400.79" y1="220.0" x2="400.79" y2="236.2" stroke="#7cc47f" stroke-width="0.8"/>
<rect x="399.79" y="222.2" width="2.0" height="11.1" fill="#3a9a3e" stroke="#26752a" stroke-width="0.5"/>
<line x1="403.53" y1="218.7" x2="403.53" y2="227.5" stroke="#f28b8b" stroke-width="0.8"/>
<rect x="402.53" y="222.8" width="2.0" height="1.0" fill="#e3312f" stroke="#c0201f" stroke-width="0.5"/>
<line x1="406.28" y1="215.0" x2="406.28" y2="225.7" stroke="#7cc47f" stroke-width="0.8"/>
<rect x="405.28" y="219.3" width="2.0" height="3.9" fill="#3a9a3e" stroke="#26752a" stroke-width="0.5"/>
<line x1="409.02" y1="214.4" x2="409.02" y2="226.4" stroke="#f28b8b" stroke-width="0.8"/>
<rect x="408.02" y="217.6" width="2.0" height="7.2" fill="#e3312f" stroke="#c0201f" stroke-width="0.5"/>
<line x1="411.76" y1="219.7" x2="411.76" y2="228.0" stroke="#7cc47f" stroke-width="0.8"/>
<rect x="410.76" y="223.2" width="2.0" height="1.0" fill="#3a9a3e" stroke="#26752a" stroke-width="0.5"/>
<line x1="414.51" y1="219.6" x2="414.51" y2="234.8" stroke="#f28b8b" stroke-width="0.8"/>
<rect x="413.51" y="222.8" width="2.0" height="8.5" fill="#e3312f" stroke="#c0201f" stroke-width="0.5"/>
<line x1="417.25" y1="229.7" x2="417.25" y2="254.4" stroke="#f28b8b" stroke-width="0.8"/>
<rect x="416.25" y="231.3" width="2.0" height="19.0" fill="#e3312f" stroke="#c0201f" stroke-width="0.5"/>
<line x1="419.99" y1="244.6" x2="419.99" y2="254.7" stroke="#7cc47f" stroke-width="0.8"/>
<rect x="418.99" y="249.0" width="2.0" height="1.3" fill="#3a9a3e" stroke="#26752a" stroke-width="0.5"/>
<line x1="422.73" y1="245.2" x2="422.73" y2="253.3" stroke="#7cc47f" stroke-width="0.8"/>
<rect x="421.73" y="248.0" width="2.0" height="1.6" fill="#3a9a3e" stroke="#26752a" stroke-width="0.5"/>
<line x1="425.48" y1="245.7" x2="425.48" y2="260.6" stroke="#f28b8b" stroke-width="0.8"/>
<rect x="424.48" y="247.7" width="2.0" height="8.7" fill="#e3312f" stroke="#c0201f" stroke-width="0.5"/>
<line x1="428.22" y1="252.4" x2="428.22" y2="281.1" stroke="#f28b8b" stroke-width="0.8"/>
<rect x="427.22" y="256.4" width="2.0" height="22.6" fill="#e3312f" stroke="#c0201f" stroke-width="0.5"/>
<line x1="430.96" y1="277.0" x2="430.96" y2="282.3" stroke="#f28b8b" stroke-width="0.8"/>
<rect x="429.96" y="278.1" width="2.0" height="1.8" fill="#e3312f" stroke="#c0201f" stroke-width="0.5"/>
<line x1="433.71" y1="257.5" x2="433.71" y2="284.7" stroke="#7cc47f" stroke-width="0.8"/>
<rect x="432.71" y="260.3" width="2.0" height="20.8" fill="#3a9a3e" stroke="#26752a" stroke-width="0.5"/>
<line x1="436.45" y1="257.7" x2="436.45" y2="266.4" stroke="#f28b8b" stroke-width="0.8"/>
<rect x="435.45" y="260.3" width="2.0" height="5.2" fill="#e3312f" stroke="#c0201f" stroke-width="0.5"/>
<line x1="439.19" y1="257.1" x2="439.19" y2="266.5" stroke="#7cc47f" stroke-width="0.8"/>
<rect x="438.19" y="260.9" width="2.0" height="4.6" fill="#3a9a3e" stroke="#26752a" stroke-width="0.5"/>
<line x1="441.94" y1="253.8" x2="441.94" y2="262.3" stroke="#7cc47f" stroke-width="0.8"/>
<rect x="440.94" y="257.6" width="2.0" height="3.3" fill="#3a9a3e" stroke="#26752a" stroke-width="0.5"/>
<line x1="444.68" y1="253.7" x2="444.68" y2="261.7" stroke="#7cc47f" stroke-width="0.8"/>
<rect x="443.68" y="255.7" width="2.0" height="2.3" fill="#3a9a3e" stroke="#26752a" stroke-width="0.5"/>
<line x1="447.42" y1="248.8" x2="447.42" y2="260.0" stroke="#f28b8b" stroke-width="0.8"/>
<rect x="446.42" y="255.4" width="2.0" height="3.2" fill="#e3312f" stroke="#c0201f" stroke-width="0.5"/>
<line x1="450.16" y1="254.3" x2="450.16" y2="262.1" stroke="#7cc47f" stroke-width="0.8"/>
<rect x="449.16" y="257.0" width="2.0" height="1.6" fill="#3a9a3e" stroke="#26752a" stroke-width="0.5"/>
<line x1="452.91" y1="252.8" x2="452.91" y2="263.7" stroke="#f28b8b" stroke-width="0.8"/>
<rect x="451.91" y="256.7" width="2.0" height="3.6" fill="#e3312f" stroke="#c0201f" stroke-width="0.5"/>
<line x1="455.65" y1="250.0" x2="455.65" y2="263.5" stroke="#f28b8b" stroke-width="0.8"/>
<rect x="454.65" y="259.6" width="2.0" height="1.3" fill="#e3312f" stroke="#c0201f" stroke-width="0.5"/>
<line x1="458.39" y1="257.3" x2="458.39" y2="264.9" stroke="#f28b8b" stroke-width="0.8"/>
<rect x="457.39" y="261.6" width="2.0" height="2.2" fill="#e3312f" stroke="#c0201f" stroke-width="0.5"/>
<line x1="461.14" y1="263.2" x2="461.14" y2="273.8" stroke="#f28b8b" stroke-width="0.8"/>
<rect x="460.14" y="264.8" width="2.0" height="1.6" fill="#e3312f" stroke="#c0201f" stroke-width="0.5"/>
<line x1="463.88" y1="256.4" x2="463.88" y2="269.6" stroke="#7cc47f" stroke-width="0.8"/>
<rect x="462.88" y="258.3" width="2.0" height="7.8" fill="#3a9a3e" stroke="#26752a" stroke-width="0.5"/>
<line x1="466.62" y1="253.5" x2="466.62" y2="260.4" stroke="#7cc47f" stroke-width="0.8"/>
<rect x="465.62" y="256.6" width="2.0" height="1.0" fill="#3a9a3e" stroke="#26752a" stroke-width="0.5"/>
<line x1="469.37" y1="252.8" x2="469.37" y2="261.2" stroke="#f28b8b" stroke-width="0.8"/>
<rect x="468.37" y="256.7" width="2.0" height="1.6" fill="#e3312f" stroke="#c0201f" stroke-width="0.5"/>
<line x1="472.11" y1="245.2" x2="472.11" y2="260.2" stroke="#7cc47f" stroke-width="0.8"/>
<rect x="471.11" y="247.2" width="2.0" height="10.8" fill="#3a9a3e" stroke="#26752a" stroke-width="0.5"/>
<line x1="474.85" y1="241.9" x2="474.85" y2="251.0" stroke="#f28b8b" stroke-width="0.8"/>
<rect x="473.85" y="245.9" width="2.0" height="1.0" fill="#e3312f" stroke="#c0201f" stroke-width="0.5"/>
<line x1="477.59" y1="235.6" x2="477.59" y2="249.4" stroke="#7cc47f" stroke-width="0.8"/>
<rect x="476.59" y="237.2" width="2.0" height="8.3" fill="#3a9a3e" stroke="#26752a" stroke-width="0.5"/>
<line x1="480.34" y1="231.7" x2="480.34" y2="251.2" stroke="#f28b8b" stroke-width="0.8"/>
<rect x="479.34" y="236.1" width="2.0" height="12.4" fill="#e3312f" stroke="#c0201f" stroke-width="0.5"/>
<line x1="483.08" y1="244.8" x2="483.08" y2="250.2" stroke="#7cc47f" stroke-width="0.8"/>
<rect x="482.08" y="247.7" width="2.0" height="1.0" fill="#3a9a3e" stroke="#26752a" stroke-width="0.5"/>
<line x1="485.82" y1="244.4" x2="485.82" y2="251.2" stroke="#7cc47f" stroke-width="0.8"/>
<rect x="484.82" y="247.2" width="2.0" height="1.3" fill="#3a9a3e" stroke="#26752a" stroke-width="0.5"/>
<line x1="488.57" y1="243.9" x2="488.57" y2="248.8" stroke="#7cc47f" stroke-width="0.8"/>
<rect x="487.57" y="246.9" width="2.0" height="1.0" fill="#3a9a3e" stroke="#26752a" stroke-width="0.5"/>
<line x1="491.31" y1="242.6" x2="491.31" y2="250.7" stroke="#f28b8b" stroke-width="0.8"/>
<rect x="490.31" y="247.0" width="2.0" height="1.0" fill="#e3312f" stroke="#c0201f" stroke-width="0.5"/>
<line x1="494.05" y1="239.1" x2="494.05" y2="250.3" stroke="#7cc47f" stroke-width="0.8"/>
<rect x="493.05" y="241.4" width="2.0" height="5.1" fill="#3a9a3e" stroke="#26752a" stroke-width="0.5"/>
<line x1="496.80" y1="238.2" x2="496.80" y2="244.7" stroke="#f28b8b" stroke-width="0.8"/>
<rect x="495.80" y="241.1" width="2.0" height="1.0" fill="#e3312f" stroke="#c0201f" stroke-width="0.5"/>
<line x1="499.54" y1="237.1" x2="499.54" y2="242.5" stroke="#7cc47f" stroke-width="0.8"/>
<rect x="498.54" y="240.5" width="2.0" height="1.0" fill="#3a9a3e" stroke="#26752a" stroke-width="0.5"/>
<line x1="502.28" y1="237.7" x2="502.28" y2="243.8" stroke="#f28b8b" stroke-width="0.8"/>
<rect x="501.28" y="240.5" width="2.0" height="1.0" fill="#e3312f" stroke="#c0201f" stroke-width="0.5"/>
<line x1="505.02" y1="236.2" x2="505.02" y2="245.7" stroke="#7cc47f" stroke-width="0.8"/>
<rect x="504.02" y="240.5" width="2.0" height="1.0" fill="#3a9a3e" stroke="#26752a" stroke-width="0.5"/>
<line x1="507.77" y1="238.8" x2="507.77" y2="245.1" stroke="#f28b8b" stroke-width="0.8"/>
<rect x="506.77" y="240.6" width="2.0" height="1.9" fill="#e3312f" stroke="#c0201f" stroke-width="0.5"/>
<line x1="510.51" y1="228.0" x2="510.51" y2="245.2" stroke="#7cc47f" stroke-width="0.8"/>
<rect x="509.51" y="229.3" width="2.0" height="13.5" fill="#3a9a3e" stroke="#26752a" stroke-width="0.5"/>
<line x1="513.25" y1="222.6" x2="513.25" y2="233.0" stroke="#7cc47f" stroke-width="0.8"/>
<rect x="512.25" y="226.4" width="2.0" height="2.5" fill="#3a9a3e" stroke="#26752a" stroke-width="0.5"/>
<line x1="516.00" y1="216.0" x2="516.00" y2="227.5" stroke="#7cc47f" stroke-width="0.8"/>
<rect x="515.00" y="218.6" width="2.0" height="6.9" fill="#3a9a3e" stroke="#26752a" stroke-width="0.5"/>
<line x1="518.74" y1="209.0" x2="518.74" y2="220.2" stroke="#7cc47f" stroke-width="0.8"/>
<rect x="517.74" y="210.5" width="2.0" height="6.6" fill="#3a9a3e" stroke="#26752a" stroke-width="0.5"/>
<line x1="521.48" y1="182.8" x2="521.48" y2="211.1" stroke="#7cc47f" stroke-width="0.8"/>
<rect x="520.48" y="187.0" width="2.0" height="22.8" fill="#3a9a3e" stroke="#26752a" stroke-width="0.5"/>
<line x1="524.23" y1="174.2" x2="524.23" y2="187.6" stroke="#7cc47f" stroke-width="0.8"/>
<rect x="523.23" y="177.9" width="2.0" height="8.8" fill="#3a9a3e" stroke="#26752a" stroke-width="0.5"/>
<line x1="526.97" y1="173.8" x2="526.97" y2="197.4" stroke="#f28b8b" stroke-width="0.8"/>
<rect x="525.97" y="177.9" width="2.0" height="17.9" fill="#e3312f" stroke="#c0201f" stroke-width="0.5"/>
<line x1="529.71" y1="192.8" x2="529.71" y2="211.8" stroke="#f28b8b" stroke-width="0.8"/>
<rect x="528.71" y="196.1" width="2.0" height="13.7" fill="#e3312f" stroke="#c0201f" stroke-width="0.5"/>
<line x1="532.45" y1="203.3" x2="532.45" y2="211.4" stroke="#7cc47f" stroke-width="0.8"/>
<rect x="531.45" y="205.4" width="2.0" height="2.9" fill="#3a9a3e" stroke="#26752a" stroke-width="0.5"/>
<line x1="535.20" y1="204.2" x2="535.20" y2="211.1" stroke="#f28b8b" stroke-width="0.8"/>
<rect x="534.20" y="205.4" width="2.0" height="2.2" fill="#e3312f" stroke="#c0201f" stroke-width="0.5"/>
<line x1="537.94" y1="207.8" x2="537.94" y2="222.8" stroke="#f28b8b" stroke-width="0.8"/>
<rect x="536.94" y="209.1" width="2.0" height="11.0" fill="#e3312f" stroke="#c0201f" stroke-width="0.5"/>
<line x1="540.68" y1="216.9" x2="540.68" y2="222.0" stroke="#7cc47f" stroke-width="0.8"/>
<rect x="539.68" y="218.6" width="2.0" height="1.9" fill="#3a9a3e" stroke="#26752a" stroke-width="0.5"/>
<line x1="543.43" y1="196.3" x2="543.43" y2="221.0" stroke="#7cc47f" stroke-width="0.8"/>
<rect x="542.43" y="199.1" width="2.0" height="19.5" fill="#3a9a3e" stroke="#26752a" stroke-width="0.5"/>
<line x1="546.17" y1="195.6" x2="546.17" y2="201.5" stroke="#f28b8b" stroke-width="0.8"/>
<rect x="545.17" y="197.8" width="2.0" height="1.4" fill="#e3312f" stroke="#c0201f" stroke-width="0.5"/>
<line x1="548.91" y1="195.7" x2="548.91" y2="201.1" stroke="#f28b8b" stroke-width="0.8"/>
<rect x="547.91" y="198.5" width="2.0" height="1.2" fill="#e3312f" stroke="#c0201f" stroke-width="0.5"/>
<line x1="551.66" y1="179.5" x2="551.66" y2="203.1" stroke="#7cc47f" stroke-width="0.8"/>
<rect x="550.66" y="190.4" width="2.0" height="9.6" fill="#3a9a3e" stroke="#26752a" stroke-width="0.5"/>
<line x1="554.40" y1="186.2" x2="554.40" y2="213.8" stroke="#f28b8b" stroke-width="0.8"/>
<rect x="553.40" y="189.4" width="2.0" height="21.6" fill="#e3312f" stroke="#c0201f" stroke-width="0.5"/>
<line x1="557.14" y1="207.1" x2="557.14" y2="236.1" stroke="#f28b8b" stroke-width="0.8"/>
<rect x="556.14" y="211.0" width="2.0" height="22.0" fill="#e3312f" stroke="#c0201f" stroke-width="0.5"/>
<line x1="559.88" y1="231.2" x2="559.88" y2="270.0" stroke="#f28b8b" stroke-width="0.8"/>
<rect x="558.88" y="235.2" width="2.0" height="22.0" fill="#e3312f" stroke="#c0201f" stroke-width="0.5"/>
<line x1="562.63" y1="251.4" x2="562.63" y2="259.7" stroke="#7cc47f" stroke-width="0.8"/>
<rect x="561.63" y="254.9" width="2.0" height="1.0" fill="#3a9a3e" stroke="#26752a" stroke-width="0.5"/>
<line x1="565.37" y1="250.2" x2="565.37" y2="265.8" stroke="#f28b8b" stroke-width="0.8"/>
<rect x="564.37" y="254.3" width="2.0" height="9.5" fill="#e3312f" stroke="#c0201f" stroke-width="0.5"/>
<line x1="568.11" y1="234.0" x2="568.11" y2="265.8" stroke="#7cc47f" stroke-width="0.8"/>
<rect x="567.11" y="236.0" width="2.0" height="25.6" fill="#3a9a3e" stroke="#26752a" stroke-width="0.5"/>
<line x1="570.86" y1="233.5" x2="570.86" y2="240.6" stroke="#7cc47f" stroke-width="0.8"/>
<rect x="569.86" y="235.1" width="2.0" height="1.0" fill="#3a9a3e" stroke="#26752a" stroke-width="0.5"/>
<line x1="573.60" y1="231.1" x2="573.60" y2="240.9" stroke="#f28b8b" stroke-width="0.8"/>
<rect x="572.60" y="235.2" width="2.0" height="4.4" fill="#e3312f" stroke="#c0201f" stroke-width="0.5"/>
<line x1="576.34" y1="225.9" x2="576.34" y2="243.1" stroke="#7cc47f" stroke-width="0.8"/>
<rect x="575.34" y="227.6" width="2.0" height="12.0" fill="#3a9a3e" stroke="#26752a" stroke-width="0.5"/>
<line x1="579.09" y1="215.8" x2="579.09" y2="228.3" stroke="#7cc47f" stroke-width="0.8"/>
<rect x="578.09" y="217.6" width="2.0" height="9.5" fill="#3a9a3e" stroke="#26752a" stroke-width="0.5"/>
<line x1="581.83" y1="196.8" x2="581.83" y2="220.0" stroke="#7cc47f" stroke-width="0.8"/>
<rect x="580.83" y="200.7" width="2.0" height="16.9" fill="#3a9a3e" stroke="#26752a" stroke-width="0.5"/>
<line x1="584.57" y1="193.0" x2="584.57" y2="201.6" stroke="#7cc47f" stroke-width="0.8"/>
<rect x="583.57" y="196.7" width="2.0" height="3.6" fill="#3a9a3e" stroke="#26752a" stroke-width="0.5"/>
<line x1="587.31" y1="188.9" x2="587.31" y2="200.0" stroke="#7cc47f" stroke-width="0.8"/>
<rect x="586.31" y="191.2" width="2.0" height="5.5" fill="#3a9a3e" stroke="#26752a" stroke-width="0.5"/>
<line x1="590.06" y1="188.8" x2="590.06" y2="192.9" stroke="#f28b8b" stroke-width="0.8"/>
<rect x="589.06" y="189.7" width="2.0" height="1.7" fill="#e3312f" stroke="#c0201f" stroke-width="0.5"/>
<line x1="592.80" y1="186.4" x2="592.80" y2="195.1" stroke="#7cc47f" stroke-width="0.8"/>
<rect x="591.80" y="189.7" width="2.0" height="1.2" fill="#3a9a3e" stroke="#26752a" stroke-width="0.5"/>
<line x1="595.54" y1="185.3" x2="595.54" y2="196.0" stroke="#f28b8b" stroke-width="0.8"/>
<rect x="594.54" y="189.7" width="2.0" height="5.1" fill="#e3312f" stroke="#c0201f" stroke-width="0.5"/>
<line x1="598.29" y1="178.2" x2="598.29" y2="197.7" stroke="#7cc47f" stroke-width="0.8"/>
<rect x="597.29" y="180.9" width="2.0" height="13.2" fill="#3a9a3e" stroke="#26752a" stroke-width="0.5"/>
<line x1="601.03" y1="175.8" x2="601.03" y2="183.1" stroke="#7cc47f" stroke-width="0.8"/>
<rect x="600.03" y="178.5" width="2.0" height="1.3" fill="#3a9a3e" stroke="#26752a" stroke-width="0.5"/>
<line x1="603.77" y1="176.4" x2="603.77" y2="180.0" stroke="#7cc47f" stroke-width="0.8"/>
<rect x="602.77" y="177.9" width="2.0" height="1.0" fill="#3a9a3e" stroke="#26752a" stroke-width="0.5"/>
<line x1="606.52" y1="176.7" x2="606.52" y2="191.3" stroke="#f28b8b" stroke-width="0.8"/>
<rect x="605.52" y="177.9" width="2.0" height="2.6" fill="#e3312f" stroke="#c0201f" stroke-width="0.5"/>
<line x1="609.26" y1="167.5" x2="609.26" y2="183.2" stroke="#7cc47f" stroke-width="0.8"/>
<rect x="608.26" y="173.9" width="2.0" height="6.6" fill="#3a9a3e" stroke="#26752a" stroke-width="0.5"/>
<line x1="612.00" y1="165.8" x2="612.00" y2="175.2" stroke="#7cc47f" stroke-width="0.8"/>
<rect x="611.00" y="168.7" width="2.0" height="5.2" fill="#3a9a3e" stroke="#26752a" stroke-width="0.5"/>
<line x1="614.75" y1="166.3" x2="614.75" y2="170.3" stroke="#f28b8b" stroke-width="0.8"/>
<rect x="613.75" y="167.8" width="2.0" height="1.0" fill="#e3312f" stroke="#c0201f" stroke-width="0.5"/>
<line x1="617.49" y1="164.6" x2="617.49" y2="192.8" stroke="#f28b8b" stroke-width="0.8"/>
<rect x="616.49" y="168.5" width="2.0" height="19.8" fill="#e3312f" stroke="#c0201f" stroke-width="0.5"/>
<line x1="620.23" y1="183.4" x2="620.23" y2="189.8" stroke="#7cc47f" stroke-width="0.8"/>
<rect x="619.23" y="187.6" width="2.0" height="1.0" fill="#3a9a3e" stroke="#26752a" stroke-width="0.5"/>
<line x1="622.97" y1="187.0" x2="622.97" y2="197.8" stroke="#f28b8b" stroke-width="0.8"/>
<rect x="621.97" y="188.0" width="2.0" height="5.5" fill="#e3312f" stroke="#c0201f" stroke-width="0.5"/>
<line x1="625.72" y1="190.4" x2="625.72" y2="214.7" stroke="#f28b8b" stroke-width="0.8"/>
<rect x="624.72" y="192.9" width="2.0" height="18.2" fill="#e3312f" stroke="#c0201f" stroke-width="0.5"/>
<line x1="628.46" y1="190.2" x2="628.46" y2="211.7" stroke="#7cc47f" stroke-width="0.8"/>
<rect x="627.46" y="192.2" width="2.0" height="17.0" fill="#3a9a3e" stroke="#26752a" stroke-width="0.5"/>
<line x1="631.20" y1="189.5" x2="631.20" y2="197.0" stroke="#f28b8b" stroke-width="0.8"/>
<rect x="630.20" y="192.2" width="2.0" height="2.4" fill="#e3312f" stroke="#c0201f" stroke-width="0.5"/>
<line x1="633.95" y1="189.2" x2="633.95" y2="218.8" stroke="#7cc47f" stroke-width="0.8"/>
<rect x="632.95" y="192.2" width="2.0" height="2.0" fill="#3a9a3e" stroke="#26752a" stroke-width="0.5"/>
<line x1="636.69" y1="180.3" x2="636.69" y2="195.5" stroke="#7cc47f" stroke-width="0.8"/>
<rect x="635.69" y="183.7" width="2.0" height="7.9" fill="#3a9a3e" stroke="#26752a" stroke-width="0.5"/>
<line x1="639.43" y1="172.4" x2="639.43" y2="185.6" stroke="#7cc47f" stroke-width="0.8"/>
<rect x="638.43" y="173.9" width="2.0" height="9.2" fill="#3a9a3e" stroke="#26752a" stroke-width="0.5"/>
<line x1="642.17" y1="164.6" x2="642.17" y2="176.9" stroke="#7cc47f" stroke-width="0.8"/>
<rect x="641.17" y="168.1" width="2.0" height="6.5" fill="#3a9a3e" stroke="#26752a" stroke-width="0.5"/>
<line x1="644.92" y1="164.6" x2="644.92" y2="168.8" stroke="#7cc47f" stroke-width="0.8"/>
<rect x="643.92" y="166.1" width="2.0" height="1.3" fill="#3a9a3e" stroke="#26752a" stroke-width="0.5"/>
<line x1="647.66" y1="163.4" x2="647.66" y2="170.3" stroke="#f28b8b" stroke-width="0.8"/>
<rect x="646.66" y="166.1" width="2.0" height="3.3" fill="#e3312f" stroke="#c0201f" stroke-width="0.5"/>
<line x1="650.40" y1="148.3" x2="650.40" y2="171.9" stroke="#7cc47f" stroke-width="0.8"/>
<rect x="649.40" y="152.4" width="2.0" height="15.7" fill="#3a9a3e" stroke="#26752a" stroke-width="0.5"/>
<line x1="653.15" y1="148.8" x2="653.15" y2="157.5" stroke="#f28b8b" stroke-width="0.8"/>
<rect x="652.15" y="152.2" width="2.0" height="1.3" fill="#e3312f" stroke="#c0201f" stroke-width="0.5"/>
<line x1="655.89" y1="147.5" x2="655.89" y2="153.9" stroke="#7cc47f" stroke-width="0.8"/>
<rect x="654.89" y="150.6" width="2.0" height="1.0" fill="#3a9a3e" stroke="#26752a" stroke-width="0.5"/>
<line x1="658.63" y1="145.3" x2="658.63" y2="153.0" stroke="#7cc47f" stroke-width="0.8"/>
<rect x="657.63" y="148.3" width="2.0" height="2.0" fill="#3a9a3e" stroke="#26752a" stroke-width="0.5"/>
<line x1="661.38" y1="143.9" x2="661.38" y2="161.2" stroke="#f28b8b" stroke-width="0.8"/>
<rect x="660.38" y="148.3" width="2.0" height="9.1" fill="#e3312f" stroke="#c0201f" stroke-width="0.5"/>
<line x1="664.12" y1="147.2" x2="664.12" y2="161.6" stroke="#7cc47f" stroke-width="0.8"/>
<rect x="663.12" y="149.0" width="2.0" height="8.4" fill="#3a9a3e" stroke="#26752a" stroke-width="0.5"/>
<line x1="666.86" y1="142.7" x2="666.86" y2="151.4" stroke="#7cc47f" stroke-width="0.8"/>
<rect x="665.86" y="146.3" width="2.0" height="1.4" fill="#3a9a3e" stroke="#26752a" stroke-width="0.5"/>
<line x1="669.61" y1="141.2" x2="669.61" y2="148.6" stroke="#f28b8b" stroke-width="0.8"/>
<rect x="668.61" y="145.0" width="2.0" height="1.3" fill="#e3312f" stroke="#c0201f" stroke-width="0.5"/>
<line x1="672.35" y1="141.3" x2="672.35" y2="154.4" stroke="#f28b8b" stroke-width="0.8"/>
<rect x="671.35" y="145.4" width="2.0" height="4.9" fill="#e3312f" stroke="#c0201f" stroke-width="0.5"/>
<line x1="675.09" y1="144.3" x2="675.09" y2="152.9" stroke="#7cc47f" stroke-width="0.8"/>
<rect x="674.09" y="147.7" width="2.0" height="1.6" fill="#3a9a3e" stroke="#26752a" stroke-width="0.5"/>
<line x1="677.83" y1="142.7" x2="677.83" y2="156.5" stroke="#f28b8b" stroke-width="0.8"/>
<rect x="676.83" y="146.3" width="2.0" height="7.9" fill="#e3312f" stroke="#c0201f" stroke-width="0.5"/>
<line x1="680.58" y1="140.9" x2="680.58" y2="155.9" stroke="#7cc47f" stroke-width="0.8"/>
<rect x="679.58" y="144.4" width="2.0" height="10.4" fill="#3a9a3e" stroke="#26752a" stroke-width="0.5"/>
<line x1="683.32" y1="141.0" x2="683.32" y2="158.0" stroke="#f28b8b" stroke-width="0.8"/>
<rect x="682.32" y="143.1" width="2.0" height="12.4" fill="#e3312f" stroke="#c0201f" stroke-width="0.5"/>
<line x1="686.06" y1="151.4" x2="686.06" y2="156.9" stroke="#7cc47f" stroke-width="0.8"/>
<rect x="685.06" y="152.2" width="2.0" height="2.6" fill="#3a9a3e" stroke="#26752a" stroke-width="0.5"/>
<line x1="688.81" y1="134.7" x2="688.81" y2="154.7" stroke="#7cc47f" stroke-width="0.8"/>
<rect x="687.81" y="137.9" width="2.0" height="13.7" fill="#3a9a3e" stroke="#26752a" stroke-width="0.5"/>
<line x1="691.55" y1="136.2" x2="691.55" y2="143.2" stroke="#f28b8b" stroke-width="0.8"/>
<rect x="690.55" y="137.9" width="2.0" height="1.0" fill="#e3312f" stroke="#c0201f" stroke-width="0.5"/>
<line x1="694.29" y1="124.1" x2="694.29" y2="140.5" stroke="#7cc47f" stroke-width="0.8"/>
<rect x="693.29" y="127.4" width="2.0" height="11.1" fill="#3a9a3e" stroke="#26752a" stroke-width="0.5"/>
<line x1="697.03" y1="113.8" x2="697.03" y2="130.3" stroke="#7cc47f" stroke-width="0.8"/>
<rect x="696.03" y="117.0" width="2.0" height="10.4" fill="#3a9a3e" stroke="#26752a" stroke-width="0.5"/>
<line x1="699.78" y1="114.2" x2="699.78" y2="132.9" stroke="#f28b8b" stroke-width="0.8"/>
<rect x="698.78" y="117.0" width="2.0" height="13.7" fill="#e3312f" stroke="#c0201f" stroke-width="0.5"/>
<line x1="702.52" y1="114.8" x2="702.52" y2="132.6" stroke="#7cc47f" stroke-width="0.8"/>
<rect x="701.52" y="119.3" width="2.0" height="10.1" fill="#3a9a3e" stroke="#26752a" stroke-width="0.5"/>
<line x1="705.26" y1="111.0" x2="705.26" y2="122.5" stroke="#7cc47f" stroke-width="0.8"/>
<rect x="704.26" y="114.4" width="2.0" height="4.5" fill="#3a9a3e" stroke="#26752a" stroke-width="0.5"/>
<line x1="708.01" y1="108.0" x2="708.01" y2="114.6" stroke="#7cc47f" stroke-width="0.8"/>
<rect x="707.01" y="112.4" width="2.0" height="1.3" fill="#3a9a3e" stroke="#26752a" stroke-width="0.5"/>
<line x1="710.75" y1="109.3" x2="710.75" y2="127.0" stroke="#f28b8b" stroke-width="0.8"/>
<rect x="709.75" y="112.4" width="2.0" height="11.1" fill="#e3312f" stroke="#c0201f" stroke-width="0.5"/>
<line x1="713.49" y1="121.8" x2="713.49" y2="132.4" stroke="#f28b8b" stroke-width="0.8"/>
<rect x="712.49" y="123.5" width="2.0" height="6.6" fill="#e3312f" stroke="#c0201f" stroke-width="0.5"/>
<line x1="716.24" y1="127.6" x2="716.24" y2="141.1" stroke="#f28b8b" stroke-width="0.8"/>
<rect x="715.24" y="128.6" width="2.0" height="11.0" fill="#e3312f" stroke="#c0201f" stroke-width="0.5"/>
<line x1="718.98" y1="136.7" x2="718.98" y2="142.3" stroke="#f28b8b" stroke-width="0.8"/>
<rect x="717.98" y="138.9" width="2.0" height="2.2" fill="#e3312f" stroke="#c0201f" stroke-width="0.5"/>
<line x1="721.72" y1="138.6" x2="721.72" y2="155.6" stroke="#f28b8b" stroke-width="0.8"/>
<rect x="720.72" y="140.3" width="2.0" height="11.1" fill="#e3312f" stroke="#c0201f" stroke-width="0.5"/>
<line x1="724.46" y1="137.5" x2="724.46" y2="149.7" stroke="#7cc47f" stroke-width="0.8"/>
<rect x="723.46" y="140.3" width="2.0" height="6.7" fill="#3a9a3e" stroke="#26752a" stroke-width="0.5"/>
<line x1="727.21" y1="135.9" x2="727.21" y2="146.9" stroke="#f28b8b" stroke-width="0.8"/>
<rect x="726.21" y="140.3" width="2.0" height="3.7" fill="#e3312f" stroke="#c0201f" stroke-width="0.5"/>
<line x1="729.95" y1="139.5" x2="729.95" y2="152.4" stroke="#f28b8b" stroke-width="0.8"/>
<rect x="728.95" y="144.0" width="2.0" height="5.2" fill="#e3312f" stroke="#c0201f" stroke-width="0.5"/>
<line x1="732.69" y1="145.4" x2="732.69" y2="162.7" stroke="#f28b8b" stroke-width="0.8"/>
<rect x="731.69" y="149.2" width="2.0" height="12.4" fill="#e3312f" stroke="#c0201f" stroke-width="0.5"/>
<line x1="735.44" y1="150.6" x2="735.44" y2="163.8" stroke="#7cc47f" stroke-width="0.8"/>
<rect x="734.44" y="153.6" width="2.0" height="6.6" fill="#3a9a3e" stroke="#26752a" stroke-width="0.5"/>
<line x1="738.18" y1="153.3" x2="738.18" y2="163.6" stroke="#f28b8b" stroke-width="0.8"/>
<rect x="737.18" y="154.3" width="2.0" height="5.1" fill="#e3312f" stroke="#c0201f" stroke-width="0.5"/>
<line x1="740.92" y1="142.6" x2="740.92" y2="161.2" stroke="#7cc47f" stroke-width="0.8"/>
<rect x="739.92" y="144.0" width="2.0" height="14.7" fill="#3a9a3e" stroke="#26752a" stroke-width="0.5"/>
<line x1="743.67" y1="93.4" x2="743.67" y2="146.6" stroke="#7cc47f" stroke-width="0.8"/>
<rect x="742.67" y="94.8" width="2.0" height="49.2" fill="#3a9a3e" stroke="#26752a" stroke-width="0.5"/>
<line x1="746.41" y1="91.7" x2="746.41" y2="97.3" stroke="#f28b8b" stroke-width="0.8"/>
<rect x="745.41" y="94.8" width="2.0" height="1.5" fill="#e3312f" stroke="#c0201f" stroke-width="0.5"/>
<line x1="749.15" y1="85.4" x2="749.15" y2="98.0" stroke="#7cc47f" stroke-width="0.8"/>
<rect x="748.15" y="89.7" width="2.0" height="5.9" fill="#3a9a3e" stroke="#26752a" stroke-width="0.5"/>
<line x1="751.89" y1="72.6" x2="751.89" y2="92.7" stroke="#7cc47f" stroke-width="0.8"/>
<rect x="750.89" y="80.1" width="2.0" height="9.6" fill="#3a9a3e" stroke="#26752a" stroke-width="0.5"/>
<line x1="754.64" y1="77.9" x2="754.64" y2="92.3" stroke="#f28b8b" stroke-width="0.8"/>
<rect x="753.64" y="80.1" width="2.0" height="10.3" fill="#e3312f" stroke="#c0201f" stroke-width="0.5"/>
<line x1="757.38" y1="85.8" x2="757.38" y2="93.3" stroke="#7cc47f" stroke-width="0.8"/>
<rect x="756.38" y="89.0" width="2.0" height="1.4" fill="#3a9a3e" stroke="#26752a" stroke-width="0.5"/>
<line x1="760.12" y1="87.4" x2="760.12" y2="99.4" stroke="#f28b8b" stroke-width="0.8"/>
<rect x="759.12" y="89.2" width="2.0" height="6.7" fill="#e3312f" stroke="#c0201f" stroke-width="0.5"/>
<line x1="762.87" y1="95.3" x2="762.87" y2="107.3" stroke="#f28b8b" stroke-width="0.8"/>
<rect x="761.87" y="97.2" width="2.0" height="9.2" fill="#e3312f" stroke="#c0201f" stroke-width="0.5"/>
<line x1="765.61" y1="105.7" x2="765.61" y2="110.2" stroke="#f28b8b" stroke-width="0.8"/>
<rect x="764.61" y="107.4" width="2.0" height="1.8" fill="#e3312f" stroke="#c0201f" stroke-width="0.5"/>
<line x1="768.35" y1="108.2" x2="768.35" y2="125.6" stroke="#f28b8b" stroke-width="0.8"/>
<rect x="767.35" y="109.6" width="2.0" height="3.0" fill="#e3312f" stroke="#c0201f" stroke-width="0.5"/>
<line x1="771.10" y1="104.8" x2="771.10" y2="116.7" stroke="#7cc47f" stroke-width="0.8"/>
<rect x="770.10" y="107.0" width="2.0" height="5.6" fill="#3a9a3e" stroke="#26752a" stroke-width="0.5"/>
<line x1="773.84" y1="89.7" x2="773.84" y2="107.4" stroke="#7cc47f" stroke-width="0.8"/>
<rect x="772.84" y="93.3" width="2.0" height="13.1" fill="#3a9a3e" stroke="#26752a" stroke-width="0.5"/>
<line x1="776.58" y1="74.2" x2="776.58" y2="97.9" stroke="#7cc47f" stroke-width="0.8"/>
<rect x="775.58" y="78.7" width="2.0" height="14.9" fill="#3a9a3e" stroke="#26752a" stroke-width="0.5"/>
<line x1="779.32" y1="63.2" x2="779.32" y2="78.6" stroke="#7cc47f" stroke-width="0.8"/>
<rect x="778.32" y="64.3" width="2.0" height="10.1" fill="#3a9a3e" stroke="#26752a" stroke-width="0.5"/>
<line x1="782.07" y1="58.0" x2="782.07" y2="67.2" stroke="#7cc47f" stroke-width="0.8"/>
<rect x="781.07" y="60.4" width="2.0" height="4.2" fill="#3a9a3e" stroke="#26752a" stroke-width="0.5"/>
<line x1="784.81" y1="56.0" x2="784.81" y2="66.3" stroke="#f28b8b" stroke-width="0.8"/>
<rect x="783.81" y="60.4" width="2.0" height="4.2" fill="#e3312f" stroke="#c0201f" stroke-width="0.5"/>
<line x1="787.55" y1="58.6" x2="787.55" y2="68.2" stroke="#7cc47f" stroke-width="0.8"/>
<rect x="786.55" y="61.3" width="2.0" height="2.6" fill="#3a9a3e" stroke="#26752a" stroke-width="0.5"/>
<line x1="790.30" y1="54.5" x2="790.30" y2="63.8" stroke="#7cc47f" stroke-width="0.8"/>
<rect x="789.30" y="58.1" width="2.0" height="3.2" fill="#3a9a3e" stroke="#26752a" stroke-width="0.5"/>
<line x1="793.04" y1="53.7" x2="793.04" y2="67.1" stroke="#f28b8b" stroke-width="0.8"/>
<rect x="792.04" y="58.1" width="2.0" height="5.2" fill="#e3312f" stroke="#c0201f" stroke-width="0.5"/>
<line x1="795.78" y1="59.9" x2="795.78" y2="69.4" stroke="#f28b8b" stroke-width="0.8"/>
<rect x="794.78" y="63.0" width="2.0" height="1.0" fill="#e3312f" stroke="#c0201f" stroke-width="0.5"/>
<line x1="798.53" y1="53.0" x2="798.53" y2="65.1" stroke="#7cc47f" stroke-width="0.8"/>
<rect x="797.53" y="56.5" width="2.0" height="6.1" fill="#3a9a3e" stroke="#26752a" stroke-width="0.5"/>
<line x1="801.27" y1="54.9" x2="801.27" y2="64.3" stroke="#f28b8b" stroke-width="0.8"/>
<rect x="800.27" y="56.5" width="2.0" height="6.8" fill="#e3312f" stroke="#c0201f" stroke-width="0.5"/>
<line x1="804.01" y1="61.5" x2="804.01" y2="69.8" stroke="#f28b8b" stroke-width="0.8"/>
<rect x="803.01" y="64.3" width="2.0" height="4.2" fill="#e3312f" stroke="#c0201f" stroke-width="0.5"/>
<line x1="806.75" y1="66.1" x2="806.75" y2="79.4" stroke="#f28b8b" stroke-width="0.8"/>
<rect x="805.75" y="68.5" width="2.0" height="7.6" fill="#e3312f" stroke="#c0201f" stroke-width="0.5"/>
<line x1="809.50" y1="73.8" x2="809.50" y2="81.4" stroke="#f28b8b" stroke-width="0.8"/>
<rect x="808.50" y="76.3" width="2.0" height="3.3" fill="#e3312f" stroke="#c0201f" stroke-width="0.5"/>
<line x1="812.24" y1="76.2" x2="812.24" y2="87.2" stroke="#f28b8b" stroke-width="0.8"/>
<rect x="811.24" y="79.2" width="2.0" height="5.6" fill="#e3312f" stroke="#c0201f" stroke-width="0.5"/>
<line x1="814.98" y1="81.5" x2="814.98" y2="94.5" stroke="#f28b8b" stroke-width="0.8"/>
<rect x="813.98" y="85.2" width="2.0" height="6.5" fill="#e3312f" stroke="#c0201f" stroke-width="0.5"/>
<line x1="817.73" y1="88.5" x2="817.73" y2="99.6" stroke="#f28b8b" stroke-width="0.8"/>
<rect x="816.73" y="93.0" width="2.0" height="2.3" fill="#e3312f" stroke="#c0201f" stroke-width="0.5"/>
<line x1="820.47" y1="91.8" x2="820.47" y2="100.2" stroke="#f28b8b" stroke-width="0.8"/>
<rect x="819.47" y="95.3" width="2.0" height="3.2" fill="#e3312f" stroke="#c0201f" stroke-width="0.5"/>
<line x1="823.21" y1="97.6" x2="823.21" y2="110.5" stroke="#f28b8b" stroke-width="0.8"/>
<rect x="822.21" y="98.8" width="2.0" height="7.6" fill="#e3312f" stroke="#c0201f" stroke-width="0.5"/>
<line x1="825.96" y1="100.6" x2="825.96" y2="147.5" stroke="#f28b8b" stroke-width="0.8"/>
<rect x="824.96" y="104.3" width="2.0" height="40.1" fill="#e3312f" stroke="#c0201f" stroke-width="0.5"/>
<line x1="828.70" y1="137.3" x2="828.70" y2="143.0" stroke="#7cc47f" stroke-width="0.8"/>
<rect x="827.70" y="138.0" width="2.0" height="3.5" fill="#3a9a3e" stroke="#26752a" stroke-width="0.5"/>
</g>
<g clip-path="url(#cmw)">
<line x1="17.1" y1="471.5" x2="865.8" y2="159.1" stroke="#44a844" stroke-width="1.8"/>
</g>
<g clip-path="url(#cm)" fill="none" stroke-linecap="round" stroke-linejoin="round">
<path d="M7.2,421.0 C10.4,421.1 19.9,421.3 26.7,421.4 C33.5,421.4 41.1,421.6 48.3,421.3 C55.5,421.0 63.0,420.7 70.0,419.8 C77.0,418.9 83.9,417.3 90.0,416.1 C96.1,414.9 101.2,414.4 106.7,412.8 C112.2,411.2 117.8,408.6 123.3,406.7 C128.8,404.8 134.4,403.3 140.0,401.7 C145.6,400.1 151.1,398.6 156.7,397.2 C162.2,395.8 167.8,394.5 173.3,393.3 C178.9,392.1 183.9,391.5 190.0,389.8 C196.1,388.1 203.3,385.4 210.0,383.3 C216.7,381.2 223.3,379.1 230.0,377.1 C236.7,375.1 243.3,373.5 250.0,371.5 C256.7,369.5 263.3,367.1 270.0,364.9 C276.7,362.6 283.3,360.1 290.0,358.0 C296.7,355.9 303.3,354.1 310.0,352.0 C316.7,349.9 323.3,347.6 330.0,345.7 C336.7,343.8 343.3,342.2 350.0,340.7 C356.7,339.2 361.6,338.6 370.0,336.9 C378.4,335.2 390.7,332.6 400.7,330.3 C410.7,328.0 421.8,325.0 430.0,323.0 C438.2,321.0 443.3,320.0 450.0,318.3 C456.7,316.6 463.3,314.8 470.0,313.0 C476.7,311.2 484.6,309.1 490.0,307.7 C495.4,306.3 496.5,306.2 502.2,304.4 C507.9,302.6 517.0,299.6 524.4,296.7 C531.8,293.8 542.2,288.9 546.7,286.7 C551.2,284.5 550.8,284.2 551.7,283.7 L554.4,282.5 L557.1,281.4 L559.9,280.5 L562.6,279.5 L565.4,278.5 L568.1,277.4 L570.9,276.3 L573.6,275.3 L576.3,274.4 L579.1,273.4 L581.8,272.3 L584.6,271.3 L587.3,270.2 L590.1,269.0 L592.8,267.9 L595.5,266.9 L598.3,265.9 L601.0,264.8 L603.8,263.8 L606.5,262.8 L609.3,261.8 L612.0,260.7 L614.7,259.7 L617.5,258.8 L620.2,257.8 L623.0,256.9 L625.7,256.2 L628.5,255.3 L631.2,254.5 L633.9,253.8 L636.7,252.9 L639.4,252.1 L642.2,251.2 L644.9,250.3 L647.7,249.4 L650.4,248.5 L653.1,247.6 L655.9,246.8 L658.6,246.0 L661.4,245.2 L664.1,244.4 L666.9,243.7 L669.6,242.8 L672.3,242.0 L675.1,241.3 L677.8,240.5 L680.6,239.8 L683.3,239.1 L686.1,238.4 L688.8,237.6 L691.5,236.8 L694.3,235.9 L697.0,235.0 L699.8,234.1 L702.5,233.2 L705.3,232.3 L708.0,231.4 L710.8,230.5 L713.5,229.7 L716.2,228.9 L719.0,228.0 L721.7,227.3 L724.5,226.5 L727.2,225.8 L730.0,225.1 L732.7,224.5 L735.4,223.9 L738.2,223.2 L740.9,222.6 L743.7,221.7 L746.4,220.8 L749.2,219.9 L751.9,219.0 L754.6,218.1 L757.4,217.2 L760.1,216.3 L762.9,215.6 L765.6,214.8 L768.4,214.0 L771.1,213.2 L773.8,212.3 L776.6,211.4 L779.3,210.4 L782.1,209.4 L784.8,208.4 L787.6,207.4 L790.3,206.4 L793.0,205.5 L795.8,204.5 L798.5,203.6 L801.3,202.6 L804.0,201.7 L806.8,200.8 L809.5,199.9 L812.2,199.0 L815.0,198.2 L817.7,197.4 L820.5,196.6 L823.2,195.8 L826.0,195.3 L828.7,194.7" stroke="#e5175c" stroke-width="2.9"/>
<path d="M7.2,412.0 C9.2,412.6 16.1,414.9 19.4,415.9 C22.6,416.9 23.1,417.2 26.7,417.8 C30.3,418.4 36.3,419.3 41.1,419.6 C45.9,419.9 50.8,420.0 55.6,419.8 C60.4,419.6 65.9,419.0 70.0,418.5 C74.1,418.0 76.8,417.8 80.1,416.7 C83.4,415.6 86.0,414.1 90.0,411.7 C94.0,409.3 100.7,405.3 104.4,402.2 C108.1,399.1 110.0,395.4 112.2,393.3 C114.4,391.2 116.0,390.7 117.8,389.4 C119.6,388.1 121.3,387.2 123.3,385.6 C125.3,384.0 128.2,381.9 130.0,380.0 C131.8,378.1 132.7,376.3 134.4,374.4 C136.1,372.5 139.2,369.5 140.2,368.5 L142.9,365.6 L145.7,362.8 L148.4,359.9 L151.2,356.8 L153.9,353.4 L156.7,350.3 L159.4,347.2 L162.2,344.4 L164.9,342.0 L167.6,339.8 L170.4,337.7 L173.1,335.6 L175.9,333.1 L178.6,330.5 L181.4,328.1 L184.1,325.7 L186.8,323.7 L189.6,321.7 L192.3,319.5 L195.1,317.2 L197.8,315.2 L200.6,313.0 L203.3,310.8 L206.0,308.8 L208.8,306.8 L211.5,304.6 L214.3,302.4 L217.0,300.4 L219.8,298.5 L222.5,297.2 L225.2,295.7 L228.0,294.0 L230.7,292.4 L233.5,290.7 L236.2,289.2 L239.0,287.7 L241.7,286.1 L244.4,284.8 L247.2,283.6 L249.9,282.5 L252.7,281.4 L255.4,280.5 L258.2,279.2 L260.9,278.2 L263.6,277.4 L266.4,276.6 L269.1,275.9 L271.9,275.3 L274.6,274.5 L277.4,273.7 L280.1,272.6 L282.8,271.7 L285.6,270.9 L288.3,270.1 L291.1,269.1 L293.8,267.9 L296.6,266.5 L299.3,265.3 L302.0,264.1 L304.8,262.8 L307.5,261.2 L310.3,259.7 L313.0,258.6 L315.8,257.8 L318.5,257.0 L321.2,256.6 L324.0,256.0 L326.7,255.4 L329.5,255.0 L332.2,255.0 L335.0,254.8 L337.7,255.2 L340.4,255.8 L343.2,256.1 L345.9,256.6 L348.7,257.2 L351.4,257.7 L354.2,257.9 L356.9,258.1 L359.6,258.0 L362.4,258.2 L365.1,258.6 L367.9,258.7 L370.6,259.3 L373.4,259.7 L376.1,259.8 L378.8,260.0 L381.6,260.1 L384.3,260.3 L387.1,260.2 L389.8,259.9 L392.6,259.5 L395.3,259.3 L398.0,258.9 L400.8,258.0 L403.5,257.3 L406.3,256.5 L409.0,255.7 L411.8,255.0 L414.5,254.6 L417.2,254.6 L420.0,254.5 L422.7,254.3 L425.5,254.2 L428.2,254.8 L431.0,255.7 L433.7,256.4 L436.4,257.0 L439.2,257.3 L441.9,257.7 L444.7,258.3 L447.4,258.9 L450.2,259.3 L452.9,259.6 L455.7,259.9 L458.4,259.9 L461.1,260.1 L463.9,260.2 L466.6,260.2 L469.4,259.9 L472.1,259.5 L474.9,258.7 L477.6,257.6 L480.3,256.7 L483.1,255.8 L485.8,255.0 L488.6,254.2 L491.3,253.6 L494.1,253.1 L496.8,252.5 L499.5,251.7 L502.3,251.0 L505.0,250.3 L507.8,249.3 L510.5,248.2 L513.3,247.3 L516.0,246.5 L518.7,245.6 L521.5,244.2 L524.2,242.7 L527.0,241.9 L529.7,241.3 L532.5,240.7 L535.2,240.2 L537.9,240.1 L540.7,240.0 L543.4,239.6 L546.2,239.1 L548.9,238.7 L551.7,237.8 L554.4,237.0 L557.1,236.7 L559.9,236.9 L562.6,236.9 L565.4,236.6 L568.1,235.7 L570.9,235.2 L573.6,234.7 L576.3,234.0 L579.1,233.2 L581.8,232.1 L584.6,230.9 L587.3,229.6 L590.1,228.2 L592.8,226.8 L595.5,225.4 L598.3,223.7 L601.0,222.1 L603.8,220.5 L606.5,218.9 L609.3,217.5 L612.0,215.9 L614.7,214.5 L617.5,213.3 L620.2,212.1 L623.0,211.1 L625.7,210.3 L628.5,209.2 L631.2,208.3 L633.9,207.3 L636.7,206.2 L639.4,204.8 L642.2,203.4 L644.9,201.8 L647.7,200.6 L650.4,199.1 L653.1,197.8 L655.9,196.6 L658.6,195.9 L661.4,195.5 L664.1,194.5 L666.9,193.3 L669.6,192.1 L672.3,190.9 L675.1,189.5 L677.8,188.2 L680.6,187.1 L683.3,186.2 L686.1,185.3 L688.8,184.2 L691.5,182.8 L694.3,180.7 L697.0,177.9 L699.8,175.4 L702.5,172.5 L705.3,170.1 L708.0,167.6 L710.8,165.3 L713.5,163.3 L716.2,161.8 L719.0,160.6 L721.7,159.7 L724.5,158.7 L727.2,157.7 L730.0,156.9 L732.7,156.2 L735.4,155.7 L738.2,155.3 L740.9,154.6 L743.7,152.9 L746.4,151.4 L749.2,149.8 L751.9,148.0 L754.6,146.1 L757.4,144.1 L760.1,142.1 L762.9,140.0 L765.6,138.4 L768.4,136.7 L771.1,135.0 L773.8,133.2 L776.6,131.3 L779.3,129.2 L782.1,127.1 L784.8,125.0 L787.6,123.2 L790.3,121.3 L793.0,119.6 L795.8,117.9 L798.5,115.8 L801.3,114.1 L804.0,112.6 L806.8,111.2 L809.5,109.8 L812.2,108.5 L815.0,107.3 L817.7,106.3 L820.5,105.1 L823.2,104.2 L826.0,104.3 L828.7,104.3" stroke="#2a5ff5" stroke-width="2.9"/>
</g>
<text x="185.6" y="338.9" font-size="10.5" fill="#2b2be6" textLength="56.6" lengthAdjust="spacingAndGlyphs">50-Tagelinie</text>
<text x="456.3" y="329.6" font-size="10.5" fill="#e3246a" textLength="63" lengthAdjust="spacingAndGlyphs">200-Tagelinie</text>
<g clip-path="url(#cm)"><text x="755" y="168.7" font-size="8.4" fill="#f5686d" textLength="75" lengthAdjust="spacingAndGlyphs">−2,958.00 (−6.56%)</text><text x="833.5" y="168.7" font-size="8.4" fill="#f5686d">−2</text></g>
<path d="M841.6,99.3 H888 a2,2 0 0 1 2,2 V107.6 a2,2 0 0 1 -2,2 H841.6 Z" fill="#2962ff"/>
<text x="847.3" y="107.5" font-size="8.8" fill="#fff">43,500.60</text>
<path d="M841.6,133.0 H888 a2,2 0 0 1 2,2 V141.3 a2,2 0 0 1 -2,2 H841.6 Z" fill="#50535e"/>
<text x="847.3" y="141.2" font-size="8.8" fill="#fff">42,472.00</text>
<path d="M841.6,190.1 H888 a2,2 0 0 1 2,2 V198.0 a2,2 0 0 1 -2,2 H841.6 Z" fill="#e91e63"/>
<text x="847.3" y="198.2" font-size="8.8" fill="#fff">40,737.48</text>
<g clip-path="url(#cs)">
<line x1="7" y1="503.9" x2="835" y2="503.9" stroke="#f23645" stroke-width="1.3" stroke-dasharray="6.1 8.29"/>
<line x1="7" y1="527.5" x2="839" y2="527.5" stroke="#d6d8dd" stroke-width="1" stroke-dasharray="3.3 3.87"/>
<line x1="7" y1="551.1" x2="835" y2="551.1" stroke="#4caf50" stroke-width="1.3" stroke-dasharray="6.1 8.29"/>
<path d="M6.9,532.0 C7.5,534.0 9.0,540.3 10.7,544.3 C12.4,548.2 15.1,554.8 17.3,555.7 C19.5,556.7 21.8,554.7 23.9,550.0 C25.9,545.3 27.7,535.2 29.6,527.3 C31.5,519.4 33.6,508.5 35.2,502.8 C36.8,497.1 37.1,494.9 39.0,493.3 C40.9,491.7 42.8,493.5 46.6,493.0 C50.4,492.5 56.0,490.9 61.7,490.5 C67.4,490.1 75.9,490.4 80.6,490.5 C85.3,490.6 87.2,490.5 90.0,491.4 C92.8,492.2 95.1,495.3 97.6,495.6 C100.1,495.9 102.6,494.2 105.1,493.3 C107.6,492.4 110.5,490.5 112.7,490.0 C114.9,489.5 116.1,489.2 118.3,490.5 C120.5,491.8 123.9,496.1 125.9,497.5 C128.0,498.9 129.0,499.1 130.6,498.6 C132.2,498.1 133.7,495.5 135.3,494.3 C136.9,493.1 138.4,491.1 140.0,491.4 C141.6,491.7 143.2,493.5 144.8,496.2 C146.4,498.9 147.9,504.4 149.5,507.5 C151.1,510.6 152.5,514.6 154.2,515.0 C155.9,515.4 158.0,510.0 159.9,510.0 C161.8,510.0 163.4,511.0 165.6,515.0 C167.8,519.0 170.8,532.5 172.9,534.1 C175.0,535.7 176.6,528.4 178.1,524.6 C179.6,520.8 180.5,515.6 181.8,511.4 C183.2,507.2 184.7,501.6 186.2,499.6 C187.7,497.6 189.0,499.9 190.6,499.3 C192.2,498.7 193.6,496.6 195.7,496.0 C197.8,495.4 200.8,494.7 203.0,495.5 C205.2,496.3 207.3,500.4 208.9,500.8 C210.5,501.2 211.2,498.0 212.6,497.9 C213.9,497.8 215.7,499.8 217.0,499.9 C218.3,500.0 219.2,496.7 220.7,498.5 C222.2,500.3 224.2,508.1 225.8,510.6 C227.4,513.1 228.8,512.5 230.2,513.6 C231.5,514.8 232.4,517.5 233.9,517.5 C235.4,517.5 237.2,515.1 239.0,513.6 C240.8,512.1 242.7,510.2 244.9,508.4 C247.1,506.6 250.1,503.1 252.3,502.6 C254.5,502.1 256.4,504.6 258.1,505.5 C259.8,506.4 261.0,505.4 262.5,507.7 C264.0,510.0 265.4,515.7 266.9,519.5 C268.4,523.3 270.0,527.9 271.4,530.5 C272.8,533.1 273.5,536.4 275.0,535.2 C276.5,534.0 278.8,525.4 280.2,523.1 C281.6,520.8 281.9,521.4 283.1,521.4 C284.3,521.4 285.9,523.7 287.5,523.1 C289.1,522.5 290.9,520.7 292.6,518.0 C294.3,515.3 296.3,509.6 297.9,507.0 C299.5,504.4 300.5,502.7 302.0,502.6 C303.5,502.5 305.0,505.1 306.8,506.2 C308.6,507.3 310.7,507.9 312.6,509.2 C314.6,510.5 317.0,511.5 318.5,514.3 C320.0,517.1 320.4,521.9 321.4,526.1 C322.4,530.3 323.2,535.9 324.4,539.3 C325.6,542.7 327.4,544.4 328.8,546.6 C330.2,548.8 331.7,551.6 332.9,552.5 C334.1,553.4 334.6,551.1 336.1,552.2 C337.6,553.3 339.9,557.6 342.0,559.1 C344.1,560.6 346.6,562.8 348.6,561.3 C350.6,559.8 352.0,554.8 353.8,550.3 C355.6,545.8 357.9,538.3 359.6,534.1 C361.3,529.9 362.6,527.5 364.0,525.3 C365.4,523.1 366.6,521.0 368.1,520.9 C369.6,520.8 371.3,525.3 372.8,524.6 C374.3,523.9 375.7,519.4 377.3,516.5 C378.9,513.6 380.8,511.1 382.4,507.0 C384.0,502.9 385.2,494.8 386.8,492.0 C388.4,489.2 390.2,490.5 392.0,490.5 C393.8,490.5 395.6,491.6 397.8,492.0 C400.0,492.4 402.9,492.4 405.2,492.6 C407.5,492.8 409.9,490.6 411.8,493.0 C413.8,495.4 415.3,501.5 416.9,507.0 C418.5,512.5 419.9,520.5 421.3,526.1 C422.7,531.7 423.9,536.1 425.0,540.8 C426.1,545.4 427.1,551.3 428.1,554.0 C429.1,556.7 429.6,557.0 431.0,556.9 C432.4,556.8 434.6,554.8 436.2,553.2 C437.8,551.6 439.1,549.8 440.6,547.4 C442.1,545.0 443.5,540.6 445.0,538.6 C446.5,536.6 447.7,536.8 449.4,535.6 C451.1,534.4 453.4,532.4 455.3,531.2 C457.2,530.0 459.2,530.2 461.1,528.3 C463.1,526.3 465.4,521.7 467.0,519.5 C468.6,517.3 469.3,517.5 470.7,515.0 C472.1,512.5 473.8,506.9 475.1,504.8 C476.5,502.7 477.2,501.8 478.8,502.3 C480.4,502.8 482.4,505.5 484.6,507.7 C486.8,509.9 489.6,515.2 492.0,515.5 C494.4,515.8 497.2,510.3 499.3,509.2 C501.4,508.1 503.0,508.3 504.5,508.9 C506.0,509.5 506.8,512.9 508.1,512.8 C509.4,512.7 510.9,509.7 512.5,508.1 C514.1,506.5 516.0,505.7 517.7,503.3 C519.4,500.9 521.4,495.4 522.8,493.8 C524.1,492.2 524.3,492.4 525.8,494.0 C527.3,495.6 529.9,500.2 531.6,503.3 C533.3,506.4 534.5,508.5 536.0,512.8 C537.5,517.1 538.7,526.8 540.4,529.0 C542.1,531.2 544.9,526.6 546.3,526.1 C547.7,525.6 547.8,526.9 548.7,526.1 C549.7,525.3 550.8,521.5 552.0,521.4 C553.2,521.3 554.7,522.6 556.0,525.3 C557.3,528.0 558.5,534.7 559.7,537.8 C560.9,540.9 562.4,541.0 563.4,543.7 C564.4,546.4 564.7,553.1 565.9,554.0 C567.1,554.9 569.1,550.9 570.7,548.8 C572.4,546.7 574.0,545.0 575.8,541.5 C577.6,538.0 579.7,532.5 581.7,527.5 C583.7,522.5 585.6,516.3 587.6,511.4 C589.6,506.5 591.5,501.2 593.5,498.2 C595.5,495.2 597.6,494.5 599.3,493.5 C601.0,492.5 602.1,492.2 603.8,492.3 C605.5,492.4 607.8,493.8 609.6,493.8 C611.4,493.9 613.1,491.6 614.8,492.6 C616.5,493.6 618.3,495.7 619.9,499.6 C621.5,503.5 622.9,509.8 624.3,515.8 C625.6,521.8 626.8,531.3 628.0,535.6 C629.2,539.9 630.4,541.1 631.7,541.5 C633.1,541.9 634.8,541.3 636.1,537.8 C637.4,534.2 638.2,525.6 639.7,520.2 C641.2,514.8 643.0,509.4 644.9,505.5 C646.8,501.6 648.8,498.7 650.8,497.0 C652.8,495.3 654.6,495.8 656.6,495.2 C658.6,494.6 660.5,493.6 662.5,493.5 C664.5,493.4 666.4,493.1 668.4,494.5 C670.4,495.9 672.8,499.5 674.4,501.8 C676.0,504.1 676.9,506.4 678.1,508.4 C679.3,510.4 680.4,511.5 681.8,513.6 C683.1,515.7 684.5,520.9 686.2,520.9 C687.9,520.9 690.4,515.8 692.0,513.6 C693.6,511.4 694.6,509.8 695.7,507.7 C696.8,505.6 697.5,502.6 698.6,501.1 C699.7,499.6 700.8,499.5 702.3,498.5 C703.8,497.5 705.9,495.1 707.5,495.2 C709.1,495.3 710.4,497.2 711.9,498.9 C713.4,500.6 714.8,501.5 716.3,505.5 C717.8,509.5 719.1,518.0 720.7,523.1 C722.3,528.2 724.0,531.9 725.8,536.3 C727.6,540.7 730.2,546.9 731.7,549.6 C733.2,552.4 733.5,551.7 734.6,552.8 C735.7,553.9 737.1,557.5 738.3,556.2 C739.5,554.9 740.8,550.2 742.0,545.2 C743.2,540.2 744.2,532.4 745.6,526.1 C747.0,519.9 749.0,512.4 750.1,507.7 C751.2,503.0 751.5,500.6 752.3,498.2 C753.1,495.8 753.9,493.9 754.9,493.5 C755.9,493.1 756.8,494.6 758.1,496.0 C759.4,497.4 761.0,499.6 762.5,501.8 C764.0,504.0 765.4,506.9 766.9,509.2 C768.4,511.5 770.1,515.2 771.5,515.8 C772.9,516.4 773.6,515.2 775.1,512.8 C776.6,510.3 778.7,504.3 780.3,501.1 C781.9,497.9 783.2,495.3 784.7,493.8 C786.2,492.3 787.5,492.0 789.1,492.0 C790.7,492.0 792.5,493.3 794.2,493.8 C795.9,494.3 797.7,494.5 799.4,495.2 C801.1,495.9 803.0,497.0 804.5,498.2 C806.0,499.4 807.1,501.0 808.2,502.6 C809.3,504.2 810.2,504.8 811.1,507.7 C812.0,510.6 812.6,516.2 813.3,520.2 C814.0,524.2 814.6,528.1 815.5,532.0 C816.4,535.9 817.5,540.2 818.5,543.7 C819.5,547.2 820.4,550.5 821.4,553.2 C822.4,555.9 823.4,558.4 824.6,559.9 C825.8,561.4 827.9,562.0 828.5,562.4" fill="none" stroke="#43a047" stroke-width="1.9" stroke-linejoin="round"/>
<path d="M6.9,520.7 C7.5,523.7 8.6,533.2 10.7,538.7 C12.8,544.2 16.7,552.4 19.2,553.8 C21.7,555.2 23.8,551.3 25.8,547.2 C27.8,543.1 29.5,536.3 31.4,529.2 C33.3,522.1 35.4,510.5 37.1,504.7 C38.8,498.9 39.3,496.2 41.8,494.3 C44.3,492.4 47.3,493.9 52.2,493.3 C57.1,492.8 64.8,491.5 71.1,491.0 C77.4,490.5 85.3,489.8 90.0,490.5 C94.7,491.2 96.6,494.7 99.4,495.2 C102.2,495.7 104.5,494.5 107.0,493.7 C109.5,492.9 112.4,490.9 114.6,490.5 C116.8,490.1 117.5,489.6 120.2,491.0 C122.9,492.4 127.1,498.3 130.6,498.6 C134.1,498.9 138.3,493.2 141.0,493.0 C143.7,492.8 144.5,493.9 146.7,497.1 C148.9,500.3 152.3,509.6 154.2,512.2 C156.1,514.8 156.3,512.9 158.0,512.6 C159.7,512.4 162.7,509.8 164.6,510.7 C166.5,511.6 167.4,514.6 169.3,517.9 C171.2,521.2 174.2,528.9 175.9,530.5 C177.6,532.1 177.7,531.4 179.5,527.5 C181.3,523.6 184.8,511.6 186.9,507.0 C189.0,502.4 189.3,501.4 192.0,499.6 C194.7,497.8 200.1,496.2 203.0,496.0 C205.9,495.8 206.9,498.0 209.7,498.5 C212.5,499.0 216.8,496.9 220.0,498.9 C223.2,500.9 226.1,507.7 228.8,510.6 C231.5,513.5 233.7,515.7 236.1,516.1 C238.5,516.5 240.6,514.9 243.4,512.8 C246.2,510.7 250.1,504.9 253.0,503.7 C255.9,502.5 258.3,502.5 261.1,505.5 C263.9,508.5 267.2,517.3 269.9,521.7 C272.6,526.1 274.9,531.9 277.2,532.0 C279.5,532.1 281.4,524.2 283.8,522.4 C286.2,520.5 289.3,522.9 291.9,520.9 C294.5,518.9 297.3,513.4 299.4,510.6 C301.5,507.8 302.8,504.9 304.5,504.3 C306.2,503.7 307.4,505.7 309.7,507.0 C312.0,508.3 316.1,508.4 318.5,512.1 C320.9,515.8 322.6,523.7 324.4,529.0 C326.2,534.3 327.8,540.3 329.5,543.7 C331.2,547.1 333.1,547.9 334.7,549.6 C336.3,551.3 337.6,552.5 339.1,554.0 C340.6,555.5 341.8,557.2 343.5,558.4 C345.2,559.6 347.4,561.4 349.1,561.3 C350.8,561.2 352.1,561.0 353.8,557.6 C355.6,554.2 357.7,545.8 359.6,540.8 C361.6,535.8 363.8,530.6 365.5,527.5 C367.2,524.4 368.3,523.3 369.9,522.4 C371.5,521.5 373.4,523.4 375.1,522.0 C376.8,520.6 378.4,517.8 380.2,514.3 C382.0,510.8 384.0,505.0 386.1,501.1 C388.2,497.2 390.2,492.6 392.7,491.1 C395.1,489.6 397.5,491.8 400.8,492.0 C404.1,492.2 409.8,491.6 412.5,492.6 C415.2,493.6 415.3,495.1 416.9,498.2 C418.5,501.3 420.9,506.8 422.1,511.4 C423.4,516.0 423.3,520.2 424.4,526.1 C425.5,532.0 427.0,541.8 428.8,546.6 C430.6,551.4 433.4,554.2 435.4,555.1 C437.4,556.0 439.0,553.4 440.6,551.8 C442.2,550.1 443.5,547.4 445.0,545.2 C446.5,543.0 447.4,540.7 449.4,538.6 C451.3,536.5 454.4,534.6 456.7,532.7 C459.0,530.9 461.3,529.3 463.3,527.5 C465.3,525.7 466.7,524.4 468.5,521.7 C470.3,519.0 472.4,514.4 474.3,511.4 C476.2,508.4 478.5,504.8 480.2,503.7 C481.9,502.6 482.4,503.1 484.6,504.8 C486.8,506.5 490.9,512.5 493.4,513.6 C495.8,514.7 497.3,512.1 499.3,511.4 C501.3,510.7 503.2,509.3 505.2,509.2 C507.2,509.1 508.9,511.2 511.1,510.6 C513.3,510.0 515.8,508.0 518.4,505.5 C521.0,503.0 524.3,496.5 526.5,495.5 C528.7,494.5 529.9,497.5 531.6,499.6 C533.3,501.8 535.1,504.2 536.8,508.4 C538.5,512.6 540.3,521.4 541.9,524.6 C543.5,527.8 545.0,527.1 546.3,527.5 C547.5,527.9 548.0,527.4 549.4,526.8 C550.8,526.2 553.1,524.0 554.5,523.9 C555.9,523.8 556.1,523.8 557.5,526.1 C558.9,528.4 561.0,534.1 562.6,537.8 C564.2,541.5 565.6,545.9 567.0,548.1 C568.4,550.3 569.1,551.6 570.7,551.0 C572.3,550.4 574.6,547.6 576.6,544.4 C578.6,541.2 580.4,536.8 582.5,532.0 C584.6,527.2 587.0,520.8 589.1,515.8 C591.2,510.8 593.0,505.3 594.9,501.8 C596.8,498.3 598.8,496.4 600.8,494.9 C602.8,493.4 604.5,492.9 606.7,492.6 C608.9,492.3 611.8,492.2 614.0,493.0 C616.2,493.8 618.0,494.3 619.9,497.4 C621.8,500.5 623.5,505.9 625.1,511.4 C626.7,516.9 627.9,525.7 629.5,530.5 C631.1,535.3 633.0,539.0 634.6,540.0 C636.2,541.0 637.3,540.1 639.0,536.3 C640.7,532.5 642.9,522.7 644.9,517.3 C646.9,511.9 648.8,507.3 650.8,504.0 C652.8,500.7 654.4,499.1 656.6,497.4 C658.8,495.7 661.8,494.2 664.0,493.8 C666.2,493.4 668.2,494.5 669.9,495.2 C671.6,495.9 672.9,496.5 674.4,498.2 C675.9,499.9 677.3,502.9 678.8,505.5 C680.3,508.1 681.6,511.3 683.2,513.6 C684.8,515.9 686.7,519.3 688.4,519.5 C690.1,519.7 691.8,517.3 693.5,515.0 C695.2,512.7 696.9,508.2 698.6,505.5 C700.3,502.8 701.9,500.4 703.8,498.9 C705.6,497.4 708.0,496.4 709.7,496.4 C711.4,496.4 712.6,497.0 714.1,498.9 C715.6,500.8 716.9,503.4 718.5,507.7 C720.1,512.0 721.9,519.5 723.6,524.6 C725.3,529.8 727.1,534.7 728.8,538.6 C730.5,542.5 732.1,545.5 733.9,548.1 C735.7,550.7 738.1,554.2 739.8,554.0 C741.5,553.8 742.6,551.1 744.2,546.6 C745.8,542.1 747.6,533.4 749.3,526.8 C751.0,520.2 752.9,512.0 754.5,507.0 C756.1,502.0 757.3,497.9 758.9,496.7 C760.5,495.5 762.3,497.7 764.0,499.6 C765.7,501.6 767.5,505.8 769.1,508.4 C770.7,511.0 772.1,514.8 773.7,515.0 C775.3,515.2 777.1,512.6 778.8,509.9 C780.5,507.2 782.3,501.7 784.0,498.9 C785.7,496.1 787.3,493.9 789.1,493.0 C790.9,492.1 793.0,493.2 795.0,493.5 C797.0,493.8 799.0,494.1 800.8,494.9 C802.6,495.7 804.5,496.9 806.0,498.2 C807.5,499.5 808.6,500.7 809.7,502.6 C810.8,504.6 811.6,506.5 812.6,509.9 C813.6,513.3 814.4,518.7 815.5,523.1 C816.6,527.5 818.0,532.1 819.2,536.3 C820.4,540.5 821.7,544.4 822.9,548.1 C824.1,551.8 825.6,556.0 826.6,558.4 C827.6,560.8 828.4,561.6 828.8,562.2" fill="none" stroke="#f0342f" stroke-width="1.9" stroke-linejoin="round"/>
<circle cx="805.3" cy="498.2" r="10" fill="#e8d9d9" fill-opacity="0.55" stroke="#f23645" stroke-width="1.1"/>
<circle cx="829.5" cy="562.8" r="9.5" fill="#dde9dd" fill-opacity="0.6" stroke="#4caf50" stroke-width="1.1"/>
</g>
<text x="12.3" y="493.6" font-size="8.3" fill="#3a3d47" textLength="55.6" lengthAdjust="spacingAndGlyphs">Stoch (14, 3, 3)</text>
<text x="74" y="493.6" font-size="8.3" fill="#4caf50">5.67</text>
<text x="93.5" y="493.6" font-size="8.3" fill="#f23645">5.99</text>
<path d="M842.3,545.5 H866 a1.5,1.5 0 0 1 1.5,1.5 V554.2 a1.5,1.5 0 0 1 -1.5,1.5 H842.3 Z" fill="#f23645"/>
<text x="847.5" y="553.7" font-size="8.8" fill="#fff">5.99</text>
<path d="M842.3,556.9 H866 a1.5,1.5 0 0 1 1.5,1.5 V565.4 a1.5,1.5 0 0 1 -1.5,1.5 H842.3 Z" fill="#4caf50"/>
<text x="847.5" y="565.0" font-size="8.8" fill="#fff">5.67</text>
<g fill="#131722"><path d="M6.7,597.8 H12.2 V604 H9.6 V600.2 H6.7 Z"/><circle cx="13.7" cy="599.1" r="1.3"/><path d="M16.3,597.8 H19.7 L16.9,604 H13.5 Z"/></g>
<text x="22.2" y="604.2" font-size="8.8" fill="#131722" stroke="#131722" stroke-width="0.2" textLength="48.5" lengthAdjust="spacingAndGlyphs">TradingView</text>
<g id="logo">
<path d="M690,398.5 C683,394.5 676.8,389.5 677,383 C677.2,374 684,366 697.2,362.2 C698.3,375 693.5,386 685,391 C679,394.5 674,389.3 667,390 C661,390.8 657,394 653.5,398.5" fill="none" stroke="#1d6429" stroke-width="5.4" stroke-linejoin="miter" stroke-miterlimit="20"/>
<path d="M 715.50 398.50 C 722.50 394.50 728.70 389.50 728.50 383.00 C 728.30 374.00 721.50 366.00 708.30 362.20 C 707.20 375.00 712.00 386.00 720.50 391.00 C 726.50 394.50 731.50 389.30 738.50 390.00 C 744.50 390.80 748.50 394.00 752.00 398.50" fill="none" stroke="#1d6429" stroke-width="5.4" stroke-linejoin="miter" stroke-miterlimit="20"/>
<path d="M 690.00 435.70 C 683.00 439.70 676.80 444.70 677.00 451.20 C 677.20 460.20 684.00 468.20 697.20 472.00 C 698.30 459.20 693.50 448.20 685.00 443.20 C 679.00 439.70 674.00 444.90 667.00 444.20 C 661.00 443.40 657.00 440.20 653.50 435.70" fill="none" stroke="#1d6429" stroke-width="5.4" stroke-linejoin="miter" stroke-miterlimit="20"/>
<path d="M 715.50 435.70 C 722.50 439.70 728.70 444.70 728.50 451.20 C 728.30 460.20 721.50 468.20 708.30 472.00 C 707.20 459.20 712.00 448.20 720.50 443.20 C 726.50 439.70 731.50 444.90 738.50 444.20 C 744.50 443.40 748.50 440.20 752.00 435.70" fill="none" stroke="#1d6429" stroke-width="5.4" stroke-linejoin="miter" stroke-miterlimit="20"/>
<path d="M690,398.5 C683,394.5 676.8,389.5 677,383 C677.2,374 684,366 697.2,362.2 C698.3,375 693.5,386 685,391 C679,394.5 674,389.3 667,390 C661,390.8 657,394 653.5,398.5" fill="none" stroke="#fff" stroke-width="3.3" stroke-linejoin="miter" stroke-miterlimit="20"/>
<path d="M 715.50 398.50 C 722.50 394.50 728.70 389.50 728.50 383.00 C 728.30 374.00 721.50 366.00 708.30 362.20 C 707.20 375.00 712.00 386.00 720.50 391.00 C 726.50 394.50 731.50 389.30 738.50 390.00 C 744.50 390.80 748.50 394.00 752.00 398.50" fill="none" stroke="#fff" stroke-width="3.3" stroke-linejoin="miter" stroke-miterlimit="20"/>
<path d="M 690.00 435.70 C 683.00 439.70 676.80 444.70 677.00 451.20 C 677.20 460.20 684.00 468.20 697.20 472.00 C 698.30 459.20 693.50 448.20 685.00 443.20 C 679.00 439.70 674.00 444.90 667.00 444.20 C 661.00 443.40 657.00 440.20 653.50 435.70" fill="none" stroke="#fff" stroke-width="3.3" stroke-linejoin="miter" stroke-miterlimit="20"/>
<path d="M 715.50 435.70 C 722.50 439.70 728.70 444.70 728.50 451.20 C 728.30 460.20 721.50 468.20 708.30 472.00 C 707.20 459.20 712.00 448.20 720.50 443.20 C 726.50 439.70 731.50 444.90 738.50 444.20 C 744.50 443.40 748.50 440.20 752.00 435.70" fill="none" stroke="#fff" stroke-width="3.3" stroke-linejoin="miter" stroke-miterlimit="20"/>
<rect x="573.1" y="398.0" width="259.6" height="38.0" rx="19" fill="#fff" stroke="#1d6429" stroke-width="1.4"/>
<text transform="translate(576.82,430.8) scale(0.943,1)" font-family="Liberation Serif" font-weight="normal" font-size="44.5" fill="#1d6429" stroke="#1d6429" stroke-width="0.85">C</text>
<text transform="translate(604.36,430.8) scale(0.923,1)" font-family="Liberation Serif" font-weight="normal" font-size="44.5" fill="#1d6429" stroke="#1d6429" stroke-width="0.95">Є</text>
<text transform="translate(633.37,430.8) scale(0.705,1)" font-family="Liberation Serif" font-weight="bold" font-size="44.5" fill="#1d6429" stroke="#1d6429" stroke-width="0.3">L</text>
<text transform="translate(650.85,430.8) scale(0.729,1)" font-family="Liberation Serif" font-weight="bold" font-size="44.5" fill="#1d6429" stroke="#1d6429" stroke-width="0.2">T</text>
<text transform="translate(686.41,430.8) scale(0.891,1)" font-family="Liberation Serif" font-weight="normal" font-size="44.5" fill="#1d6429" stroke="#1d6429" stroke-width="1.1">C</text>
<text transform="translate(712.20,430.8) scale(1.011,1)" font-family="Liberation Serif" font-weight="normal" font-size="44.5" fill="#1d6429" stroke="#1d6429" stroke-width="0.55">G</text>
<text transform="translate(743.02,430.8) scale(1.166,1)" font-family="Liberation Serif" font-weight="normal" font-size="44.5" fill="#1d6429" stroke="#1d6429" stroke-width="0.1">O</text>
<text transform="translate(778.62,430.8) scale(0.769,1)" font-family="Liberation Serif" font-weight="bold" font-size="44.5" fill="#1d6429" stroke="#1d6429" stroke-width="0.1">L</text>
<text transform="translate(801.85,430.8) scale(0.846,1)" font-family="Liberation Serif" font-weight="bold" font-size="44.5" fill="#1d6429" stroke="#1d6429" stroke-width="0.0">D</text>
<path d="M677.3,403.4 H681.8 V430 H677.3 Z M676.1,402.4 H682.9 L681.8,403.8 H677.3 Z M677.3,429.5 H681.8 L682.9,430.9 H676.1 Z" fill="#1d6429"/>
</g>
</svg></body></html>
